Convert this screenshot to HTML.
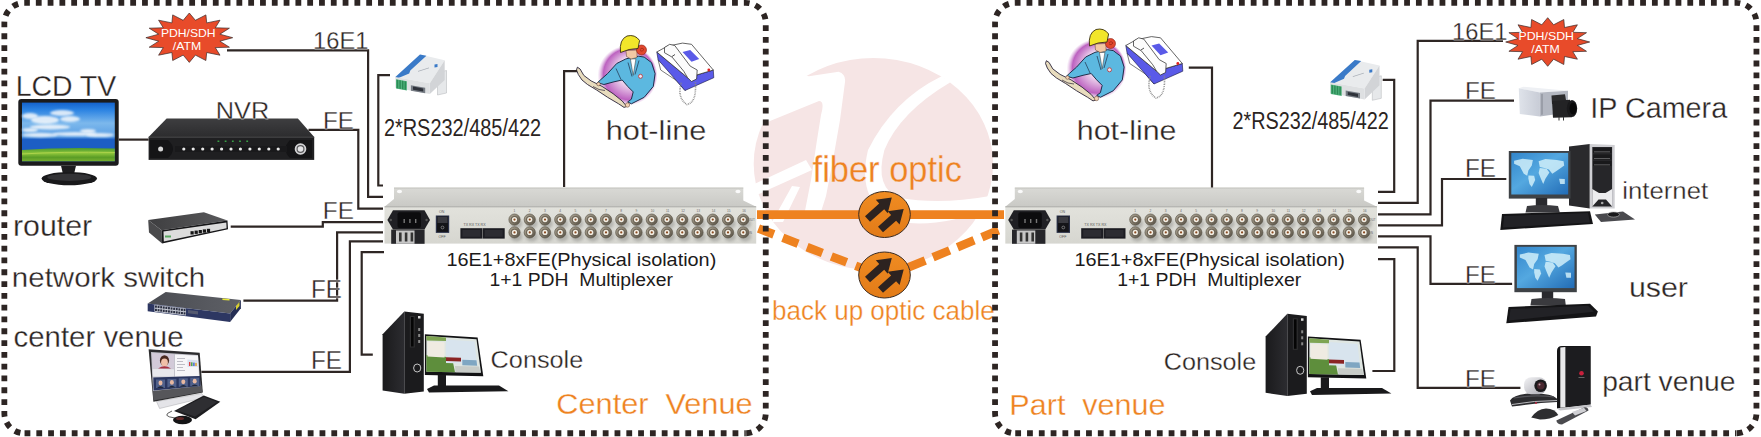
<!DOCTYPE html>
<html><head><meta charset="utf-8"><title>PDH Multiplexer diagram</title>
<style>html,body{margin:0;padding:0;background:#fff;}svg{display:block;font-family:"Liberation Sans",sans-serif;}</style>
</head><body>
<svg width="1761" height="437" viewBox="0 0 1761 437">
<defs>
<linearGradient id="gTop" x1="0" y1="0" x2="0" y2="1"><stop offset="0" stop-color="#d9d9d5"/><stop offset="1" stop-color="#c9c9c5"/></linearGradient>
<linearGradient id="gFront" x1="0" y1="0" x2="0" y2="1"><stop offset="0" stop-color="#e2e2dc"/><stop offset="1" stop-color="#d6d6d0"/></linearGradient>
<linearGradient id="gOr" x1="0" y1="0" x2="0" y2="1"><stop offset="0" stop-color="#f08c22"/><stop offset="1" stop-color="#e27b18"/></linearGradient>
<linearGradient id="gTV" x1="0" y1="0" x2="0" y2="1"><stop offset="0" stop-color="#1462cc"/><stop offset="0.12" stop-color="#2a82e2"/><stop offset="0.35" stop-color="#7cb8ec"/><stop offset="0.58" stop-color="#5a9ee4"/><stop offset="0.63" stop-color="#1c5ec4"/><stop offset="1" stop-color="#1c5ec4"/></linearGradient>
<linearGradient id="gGrass" x1="0" y1="0" x2="0" y2="1"><stop offset="0" stop-color="#4a9a30"/><stop offset="0.4" stop-color="#8cc43a"/><stop offset="0.7" stop-color="#5a9c26"/><stop offset="1" stop-color="#78b030"/></linearGradient>
<linearGradient id="gNvrTop" x1="0" y1="0" x2="0" y2="1"><stop offset="0" stop-color="#3e3e40"/><stop offset="1" stop-color="#2c2c2e"/></linearGradient>
<linearGradient id="gRouterTop" x1="0" y1="0" x2="1" y2="0"><stop offset="0" stop-color="#3e3e40"/><stop offset="1" stop-color="#5a5a5c"/></linearGradient>
<linearGradient id="gSwTop" x1="0" y1="0" x2="1" y2="0"><stop offset="0" stop-color="#4a4c52"/><stop offset="1" stop-color="#5e6066"/></linearGradient>
<linearGradient id="gTowerSide" x1="0" y1="0" x2="1" y2="0"><stop offset="0" stop-color="#1a1a1c"/><stop offset="1" stop-color="#2c2c30"/></linearGradient>
<linearGradient id="gConsoleScr" x1="0" y1="0" x2="1" y2="1"><stop offset="0" stop-color="#a8c890"/><stop offset="0.5" stop-color="#6a9c4a"/><stop offset="1" stop-color="#3a6a2a"/></linearGradient>
<linearGradient id="gCam" x1="0" y1="0" x2="1" y2="0"><stop offset="0" stop-color="#dfe3ea"/><stop offset="1" stop-color="#c8ccd6"/></linearGradient>
<linearGradient id="gWorld" x1="0" y1="0" x2="1" y2="1"><stop offset="0" stop-color="#3286cc"/><stop offset="0.45" stop-color="#54a8e0"/><stop offset="1" stop-color="#226cb6"/></linearGradient>
<linearGradient id="gSilver" x1="0" y1="0" x2="1" y2="1"><stop offset="0" stop-color="#f4f4f6"/><stop offset="1" stop-color="#a8a8b0"/></linearGradient>
<radialGradient id="gGlow" cx="0.5" cy="0.5" r="0.5" fx="0.66" fy="0.36"><stop offset="0" stop-color="#fdf9fd"/><stop offset="0.5" stop-color="#ecd2ec"/><stop offset="0.85" stop-color="#bc62c0"/><stop offset="1" stop-color="#d8a8dc" stop-opacity="0"/></radialGradient>
<linearGradient id="gBnc" x1="0" y1="0" x2="1" y2="1"><stop offset="0" stop-color="#b4ac9c"/><stop offset="0.5" stop-color="#867e6e"/><stop offset="1" stop-color="#4e483e"/></linearGradient>
<filter id="blur" x="-50%" y="-50%" width="200%" height="200%"><feGaussianBlur stdDeviation="1.5"/></filter>
<filter id="blur05" x="-20%" y="-20%" width="140%" height="140%"><feGaussianBlur stdDeviation="0.4"/></filter>
<filter id="blur1" x="-50%" y="-50%" width="200%" height="200%"><feGaussianBlur stdDeviation="1"/></filter>
</defs>
<ellipse cx="873.4" cy="164" rx="119.7" ry="106" fill="#f6e5e5"/>
<path d="M941.6 76.3 Q893 100 868 150 Q855 205 900 222 Q940 228 992 208 L990 196 Q940 205 900 198 Q874 188 884.4 150 Q900 112 950.8 82 Z" fill="#ffffff"/>
<path d="M808.9 76.3 L838.6 71.7 Q846 74 845 82 L840 120 L833 160 L826 196 L820 215 L804 216 L811 180 L817 140 L821 115 Q825 101 819 101 L770 121 L750 130 L745 60 Z" fill="#ffffff"/>
<path d="M750 186 L806 160 L812 170 L750 198 Z" fill="#ffffff"/>
<path d="M772 222 L792 186 L800 187 L783 222 Z" fill="#ffffff"/>
<path d="M757 214.6 H1004" stroke="#ee8220" stroke-width="8.6" fill="none"/>
<path d="M758.5 228.5 L885 277" stroke="#ee8220" stroke-width="8.6" fill="none" stroke-dasharray="16.4 9.6"/>
<path d="M998.5 230.3 L885 277" stroke="#ee8220" stroke-width="8.6" fill="none" stroke-dasharray="18 8.4"/>
<ellipse cx="884.5" cy="214.5" rx="25.8" ry="23" fill="url(#gOr)" stroke="#3a2a20" stroke-width="1"/>
<polygon points="865.0,216.2 879.2,203.6 875.8,199.7 891.8,197.5 887.7,213.2 884.2,209.3 870.0,221.8" fill="#2d2320" />
<polygon points="878.0,226.7 891.1,215.1 887.6,211.2 903.7,209.0 899.6,224.6 896.1,220.8 883.0,232.3" fill="#2d2320" />
<ellipse cx="884.5" cy="275" rx="25.8" ry="23" fill="url(#gOr)" stroke="#3a2a20" stroke-width="1"/>
<polygon points="865.0,276.7 879.2,264.1 875.8,260.2 891.8,258.0 887.7,273.7 884.2,269.8 870.0,282.3" fill="#2d2320" />
<polygon points="878.0,287.2 891.1,275.6 887.6,271.7 903.7,269.5 899.6,285.1 896.1,281.3 883.0,292.8" fill="#2d2320" />
<polygon points="394.0,187.7 743.3,187.7 743.3,200.5 756.2,206.8 384.5,206.8 394.0,199.0" fill="url(#gTop)" />
<rect x="384.5" y="206.8" width="371.7" height="36.8" fill="url(#gFront)"/>
<line x1="384.5" y1="206.8" x2="756.2" y2="206.8" stroke="#a9a9a4" stroke-width="1"/>
<line x1="394" y1="188" x2="743.3" y2="188" stroke="#bcbcb6" stroke-width="0.8"/>
<ellipse cx="399.5" cy="191.5" rx="2.6" ry="1.8" fill="#fafafa"/>
<ellipse cx="738" cy="191.5" rx="2.6" ry="1.8" fill="#fafafa"/>
<path d="M393 210.3 H424.5 L430 220 L424.5 229.6 H393 L387.4 220 Z" fill="#202024"/>
<rect x="397.5" y="212.2" width="23.5" height="15.8" rx="2" fill="#0c0c0e"/>
<rect x="403.5" y="219" width="1.4" height="4" fill="#777"/>
<rect x="409.2" y="219" width="1.4" height="4" fill="#777"/>
<rect x="415" y="219" width="1.4" height="4" fill="#777"/>
<circle cx="390.8" cy="220" r="1.2" fill="#555"/>
<circle cx="426.6" cy="220" r="1.2" fill="#555"/>
<rect x="391.2" y="229.6" width="33.4" height="14.2" fill="#26262a"/>
<rect x="396" y="230.5" width="18.5" height="13.3" fill="#c6c6c6"/>
<rect x="399" y="232.5" width="2.6" height="9" fill="#333"/>
<rect x="404.8" y="232.5" width="2.6" height="9" fill="#333"/>
<rect x="410.6" y="232.5" width="2.6" height="9" fill="#333"/>
<rect x="435.8" y="215.5" width="13.4" height="17.4" fill="#2a3048"/>
<rect x="437" y="216.5" width="11" height="15.4" fill="#141418"/>
<rect x="437.5" y="217" width="10" height="6" fill="#3a3a40"/>
<circle cx="442.5" cy="227.5" r="1.4" fill="none" stroke="#aaa" stroke-width="0.6"/>
<text x="439" y="212.8" font-size="3.6" fill="#555">ON</text>
<text x="438.5" y="237.6" font-size="3.6" fill="#555">OFF</text>
<rect x="460.4" y="228.2" width="22" height="10.4" fill="#1c1c22"/>
<rect x="462.4" y="230" width="18" height="6.8" fill="#2c2c32"/>
<rect x="482.7" y="228.2" width="22" height="10.4" fill="#1c1c22"/>
<rect x="484.7" y="230" width="18" height="6.8" fill="#2c2c32"/>
<text x="463.5" y="226.2" font-size="3.6" fill="#555">TX  RX   TX  RX</text>
<text x="513.5" y="212.3" font-size="3.2" fill="#666">1</text>
<ellipse cx="516.5" cy="223.6" rx="6" ry="5" fill="#000" opacity="0.18" filter="url(#blur)"/>
<circle cx="514.5" cy="219.6" r="5.6" fill="url(#gBnc)" stroke="#5a5448" stroke-width="0.7"/>
<circle cx="514.5" cy="219.6" r="3.7" fill="#6c6456"/>
<circle cx="514.5" cy="219.6" r="2.6" fill="#f2eee4"/>
<circle cx="514.5" cy="219.6" r="1.1" fill="#8b4b22"/>
<ellipse cx="516.5" cy="236.4" rx="6" ry="5" fill="#000" opacity="0.18" filter="url(#blur)"/>
<circle cx="514.5" cy="232.4" r="5.6" fill="url(#gBnc)" stroke="#5a5448" stroke-width="0.7"/>
<circle cx="514.5" cy="232.4" r="3.7" fill="#6c6456"/>
<circle cx="514.5" cy="232.4" r="2.6" fill="#f2eee4"/>
<circle cx="514.5" cy="232.4" r="1.1" fill="#8b4b22"/>
<text x="528.75" y="212.3" font-size="3.2" fill="#666">2</text>
<ellipse cx="531.75" cy="223.6" rx="6" ry="5" fill="#000" opacity="0.18" filter="url(#blur)"/>
<circle cx="529.75" cy="219.6" r="5.6" fill="url(#gBnc)" stroke="#5a5448" stroke-width="0.7"/>
<circle cx="529.75" cy="219.6" r="3.7" fill="#6c6456"/>
<circle cx="529.75" cy="219.6" r="2.6" fill="#f2eee4"/>
<circle cx="529.75" cy="219.6" r="1.1" fill="#8b4b22"/>
<ellipse cx="531.75" cy="236.4" rx="6" ry="5" fill="#000" opacity="0.18" filter="url(#blur)"/>
<circle cx="529.75" cy="232.4" r="5.6" fill="url(#gBnc)" stroke="#5a5448" stroke-width="0.7"/>
<circle cx="529.75" cy="232.4" r="3.7" fill="#6c6456"/>
<circle cx="529.75" cy="232.4" r="2.6" fill="#f2eee4"/>
<circle cx="529.75" cy="232.4" r="1.1" fill="#8b4b22"/>
<text x="544.0" y="212.3" font-size="3.2" fill="#666">3</text>
<ellipse cx="547.0" cy="223.6" rx="6" ry="5" fill="#000" opacity="0.18" filter="url(#blur)"/>
<circle cx="545.0" cy="219.6" r="5.6" fill="url(#gBnc)" stroke="#5a5448" stroke-width="0.7"/>
<circle cx="545.0" cy="219.6" r="3.7" fill="#6c6456"/>
<circle cx="545.0" cy="219.6" r="2.6" fill="#f2eee4"/>
<circle cx="545.0" cy="219.6" r="1.1" fill="#8b4b22"/>
<ellipse cx="547.0" cy="236.4" rx="6" ry="5" fill="#000" opacity="0.18" filter="url(#blur)"/>
<circle cx="545.0" cy="232.4" r="5.6" fill="url(#gBnc)" stroke="#5a5448" stroke-width="0.7"/>
<circle cx="545.0" cy="232.4" r="3.7" fill="#6c6456"/>
<circle cx="545.0" cy="232.4" r="2.6" fill="#f2eee4"/>
<circle cx="545.0" cy="232.4" r="1.1" fill="#8b4b22"/>
<text x="559.25" y="212.3" font-size="3.2" fill="#666">4</text>
<ellipse cx="562.25" cy="223.6" rx="6" ry="5" fill="#000" opacity="0.18" filter="url(#blur)"/>
<circle cx="560.25" cy="219.6" r="5.6" fill="url(#gBnc)" stroke="#5a5448" stroke-width="0.7"/>
<circle cx="560.25" cy="219.6" r="3.7" fill="#6c6456"/>
<circle cx="560.25" cy="219.6" r="2.6" fill="#f2eee4"/>
<circle cx="560.25" cy="219.6" r="1.1" fill="#8b4b22"/>
<ellipse cx="562.25" cy="236.4" rx="6" ry="5" fill="#000" opacity="0.18" filter="url(#blur)"/>
<circle cx="560.25" cy="232.4" r="5.6" fill="url(#gBnc)" stroke="#5a5448" stroke-width="0.7"/>
<circle cx="560.25" cy="232.4" r="3.7" fill="#6c6456"/>
<circle cx="560.25" cy="232.4" r="2.6" fill="#f2eee4"/>
<circle cx="560.25" cy="232.4" r="1.1" fill="#8b4b22"/>
<text x="574.5" y="212.3" font-size="3.2" fill="#666">5</text>
<ellipse cx="577.5" cy="223.6" rx="6" ry="5" fill="#000" opacity="0.18" filter="url(#blur)"/>
<circle cx="575.5" cy="219.6" r="5.6" fill="url(#gBnc)" stroke="#5a5448" stroke-width="0.7"/>
<circle cx="575.5" cy="219.6" r="3.7" fill="#6c6456"/>
<circle cx="575.5" cy="219.6" r="2.6" fill="#f2eee4"/>
<circle cx="575.5" cy="219.6" r="1.1" fill="#8b4b22"/>
<ellipse cx="577.5" cy="236.4" rx="6" ry="5" fill="#000" opacity="0.18" filter="url(#blur)"/>
<circle cx="575.5" cy="232.4" r="5.6" fill="url(#gBnc)" stroke="#5a5448" stroke-width="0.7"/>
<circle cx="575.5" cy="232.4" r="3.7" fill="#6c6456"/>
<circle cx="575.5" cy="232.4" r="2.6" fill="#f2eee4"/>
<circle cx="575.5" cy="232.4" r="1.1" fill="#8b4b22"/>
<text x="589.75" y="212.3" font-size="3.2" fill="#666">6</text>
<ellipse cx="592.75" cy="223.6" rx="6" ry="5" fill="#000" opacity="0.18" filter="url(#blur)"/>
<circle cx="590.75" cy="219.6" r="5.6" fill="url(#gBnc)" stroke="#5a5448" stroke-width="0.7"/>
<circle cx="590.75" cy="219.6" r="3.7" fill="#6c6456"/>
<circle cx="590.75" cy="219.6" r="2.6" fill="#f2eee4"/>
<circle cx="590.75" cy="219.6" r="1.1" fill="#8b4b22"/>
<ellipse cx="592.75" cy="236.4" rx="6" ry="5" fill="#000" opacity="0.18" filter="url(#blur)"/>
<circle cx="590.75" cy="232.4" r="5.6" fill="url(#gBnc)" stroke="#5a5448" stroke-width="0.7"/>
<circle cx="590.75" cy="232.4" r="3.7" fill="#6c6456"/>
<circle cx="590.75" cy="232.4" r="2.6" fill="#f2eee4"/>
<circle cx="590.75" cy="232.4" r="1.1" fill="#8b4b22"/>
<text x="605.0" y="212.3" font-size="3.2" fill="#666">7</text>
<ellipse cx="608.0" cy="223.6" rx="6" ry="5" fill="#000" opacity="0.18" filter="url(#blur)"/>
<circle cx="606.0" cy="219.6" r="5.6" fill="url(#gBnc)" stroke="#5a5448" stroke-width="0.7"/>
<circle cx="606.0" cy="219.6" r="3.7" fill="#6c6456"/>
<circle cx="606.0" cy="219.6" r="2.6" fill="#f2eee4"/>
<circle cx="606.0" cy="219.6" r="1.1" fill="#8b4b22"/>
<ellipse cx="608.0" cy="236.4" rx="6" ry="5" fill="#000" opacity="0.18" filter="url(#blur)"/>
<circle cx="606.0" cy="232.4" r="5.6" fill="url(#gBnc)" stroke="#5a5448" stroke-width="0.7"/>
<circle cx="606.0" cy="232.4" r="3.7" fill="#6c6456"/>
<circle cx="606.0" cy="232.4" r="2.6" fill="#f2eee4"/>
<circle cx="606.0" cy="232.4" r="1.1" fill="#8b4b22"/>
<text x="620.25" y="212.3" font-size="3.2" fill="#666">8</text>
<ellipse cx="623.25" cy="223.6" rx="6" ry="5" fill="#000" opacity="0.18" filter="url(#blur)"/>
<circle cx="621.25" cy="219.6" r="5.6" fill="url(#gBnc)" stroke="#5a5448" stroke-width="0.7"/>
<circle cx="621.25" cy="219.6" r="3.7" fill="#6c6456"/>
<circle cx="621.25" cy="219.6" r="2.6" fill="#f2eee4"/>
<circle cx="621.25" cy="219.6" r="1.1" fill="#8b4b22"/>
<ellipse cx="623.25" cy="236.4" rx="6" ry="5" fill="#000" opacity="0.18" filter="url(#blur)"/>
<circle cx="621.25" cy="232.4" r="5.6" fill="url(#gBnc)" stroke="#5a5448" stroke-width="0.7"/>
<circle cx="621.25" cy="232.4" r="3.7" fill="#6c6456"/>
<circle cx="621.25" cy="232.4" r="2.6" fill="#f2eee4"/>
<circle cx="621.25" cy="232.4" r="1.1" fill="#8b4b22"/>
<text x="635.5" y="212.3" font-size="3.2" fill="#666">9</text>
<ellipse cx="638.5" cy="223.6" rx="6" ry="5" fill="#000" opacity="0.18" filter="url(#blur)"/>
<circle cx="636.5" cy="219.6" r="5.6" fill="url(#gBnc)" stroke="#5a5448" stroke-width="0.7"/>
<circle cx="636.5" cy="219.6" r="3.7" fill="#6c6456"/>
<circle cx="636.5" cy="219.6" r="2.6" fill="#f2eee4"/>
<circle cx="636.5" cy="219.6" r="1.1" fill="#8b4b22"/>
<ellipse cx="638.5" cy="236.4" rx="6" ry="5" fill="#000" opacity="0.18" filter="url(#blur)"/>
<circle cx="636.5" cy="232.4" r="5.6" fill="url(#gBnc)" stroke="#5a5448" stroke-width="0.7"/>
<circle cx="636.5" cy="232.4" r="3.7" fill="#6c6456"/>
<circle cx="636.5" cy="232.4" r="2.6" fill="#f2eee4"/>
<circle cx="636.5" cy="232.4" r="1.1" fill="#8b4b22"/>
<text x="650.75" y="212.3" font-size="3.2" fill="#666">10</text>
<ellipse cx="653.75" cy="223.6" rx="6" ry="5" fill="#000" opacity="0.18" filter="url(#blur)"/>
<circle cx="651.75" cy="219.6" r="5.6" fill="url(#gBnc)" stroke="#5a5448" stroke-width="0.7"/>
<circle cx="651.75" cy="219.6" r="3.7" fill="#6c6456"/>
<circle cx="651.75" cy="219.6" r="2.6" fill="#f2eee4"/>
<circle cx="651.75" cy="219.6" r="1.1" fill="#8b4b22"/>
<ellipse cx="653.75" cy="236.4" rx="6" ry="5" fill="#000" opacity="0.18" filter="url(#blur)"/>
<circle cx="651.75" cy="232.4" r="5.6" fill="url(#gBnc)" stroke="#5a5448" stroke-width="0.7"/>
<circle cx="651.75" cy="232.4" r="3.7" fill="#6c6456"/>
<circle cx="651.75" cy="232.4" r="2.6" fill="#f2eee4"/>
<circle cx="651.75" cy="232.4" r="1.1" fill="#8b4b22"/>
<text x="666.0" y="212.3" font-size="3.2" fill="#666">11</text>
<ellipse cx="669.0" cy="223.6" rx="6" ry="5" fill="#000" opacity="0.18" filter="url(#blur)"/>
<circle cx="667.0" cy="219.6" r="5.6" fill="url(#gBnc)" stroke="#5a5448" stroke-width="0.7"/>
<circle cx="667.0" cy="219.6" r="3.7" fill="#6c6456"/>
<circle cx="667.0" cy="219.6" r="2.6" fill="#f2eee4"/>
<circle cx="667.0" cy="219.6" r="1.1" fill="#8b4b22"/>
<ellipse cx="669.0" cy="236.4" rx="6" ry="5" fill="#000" opacity="0.18" filter="url(#blur)"/>
<circle cx="667.0" cy="232.4" r="5.6" fill="url(#gBnc)" stroke="#5a5448" stroke-width="0.7"/>
<circle cx="667.0" cy="232.4" r="3.7" fill="#6c6456"/>
<circle cx="667.0" cy="232.4" r="2.6" fill="#f2eee4"/>
<circle cx="667.0" cy="232.4" r="1.1" fill="#8b4b22"/>
<text x="681.25" y="212.3" font-size="3.2" fill="#666">12</text>
<ellipse cx="684.25" cy="223.6" rx="6" ry="5" fill="#000" opacity="0.18" filter="url(#blur)"/>
<circle cx="682.25" cy="219.6" r="5.6" fill="url(#gBnc)" stroke="#5a5448" stroke-width="0.7"/>
<circle cx="682.25" cy="219.6" r="3.7" fill="#6c6456"/>
<circle cx="682.25" cy="219.6" r="2.6" fill="#f2eee4"/>
<circle cx="682.25" cy="219.6" r="1.1" fill="#8b4b22"/>
<ellipse cx="684.25" cy="236.4" rx="6" ry="5" fill="#000" opacity="0.18" filter="url(#blur)"/>
<circle cx="682.25" cy="232.4" r="5.6" fill="url(#gBnc)" stroke="#5a5448" stroke-width="0.7"/>
<circle cx="682.25" cy="232.4" r="3.7" fill="#6c6456"/>
<circle cx="682.25" cy="232.4" r="2.6" fill="#f2eee4"/>
<circle cx="682.25" cy="232.4" r="1.1" fill="#8b4b22"/>
<text x="696.5" y="212.3" font-size="3.2" fill="#666">13</text>
<ellipse cx="699.5" cy="223.6" rx="6" ry="5" fill="#000" opacity="0.18" filter="url(#blur)"/>
<circle cx="697.5" cy="219.6" r="5.6" fill="url(#gBnc)" stroke="#5a5448" stroke-width="0.7"/>
<circle cx="697.5" cy="219.6" r="3.7" fill="#6c6456"/>
<circle cx="697.5" cy="219.6" r="2.6" fill="#f2eee4"/>
<circle cx="697.5" cy="219.6" r="1.1" fill="#8b4b22"/>
<ellipse cx="699.5" cy="236.4" rx="6" ry="5" fill="#000" opacity="0.18" filter="url(#blur)"/>
<circle cx="697.5" cy="232.4" r="5.6" fill="url(#gBnc)" stroke="#5a5448" stroke-width="0.7"/>
<circle cx="697.5" cy="232.4" r="3.7" fill="#6c6456"/>
<circle cx="697.5" cy="232.4" r="2.6" fill="#f2eee4"/>
<circle cx="697.5" cy="232.4" r="1.1" fill="#8b4b22"/>
<text x="711.75" y="212.3" font-size="3.2" fill="#666">14</text>
<ellipse cx="714.75" cy="223.6" rx="6" ry="5" fill="#000" opacity="0.18" filter="url(#blur)"/>
<circle cx="712.75" cy="219.6" r="5.6" fill="url(#gBnc)" stroke="#5a5448" stroke-width="0.7"/>
<circle cx="712.75" cy="219.6" r="3.7" fill="#6c6456"/>
<circle cx="712.75" cy="219.6" r="2.6" fill="#f2eee4"/>
<circle cx="712.75" cy="219.6" r="1.1" fill="#8b4b22"/>
<ellipse cx="714.75" cy="236.4" rx="6" ry="5" fill="#000" opacity="0.18" filter="url(#blur)"/>
<circle cx="712.75" cy="232.4" r="5.6" fill="url(#gBnc)" stroke="#5a5448" stroke-width="0.7"/>
<circle cx="712.75" cy="232.4" r="3.7" fill="#6c6456"/>
<circle cx="712.75" cy="232.4" r="2.6" fill="#f2eee4"/>
<circle cx="712.75" cy="232.4" r="1.1" fill="#8b4b22"/>
<text x="727.0" y="212.3" font-size="3.2" fill="#666">15</text>
<ellipse cx="730.0" cy="223.6" rx="6" ry="5" fill="#000" opacity="0.18" filter="url(#blur)"/>
<circle cx="728.0" cy="219.6" r="5.6" fill="url(#gBnc)" stroke="#5a5448" stroke-width="0.7"/>
<circle cx="728.0" cy="219.6" r="3.7" fill="#6c6456"/>
<circle cx="728.0" cy="219.6" r="2.6" fill="#f2eee4"/>
<circle cx="728.0" cy="219.6" r="1.1" fill="#8b4b22"/>
<ellipse cx="730.0" cy="236.4" rx="6" ry="5" fill="#000" opacity="0.18" filter="url(#blur)"/>
<circle cx="728.0" cy="232.4" r="5.6" fill="url(#gBnc)" stroke="#5a5448" stroke-width="0.7"/>
<circle cx="728.0" cy="232.4" r="3.7" fill="#6c6456"/>
<circle cx="728.0" cy="232.4" r="2.6" fill="#f2eee4"/>
<circle cx="728.0" cy="232.4" r="1.1" fill="#8b4b22"/>
<text x="742.25" y="212.3" font-size="3.2" fill="#666">16</text>
<ellipse cx="745.25" cy="223.6" rx="6" ry="5" fill="#000" opacity="0.18" filter="url(#blur)"/>
<circle cx="743.25" cy="219.6" r="5.6" fill="url(#gBnc)" stroke="#5a5448" stroke-width="0.7"/>
<circle cx="743.25" cy="219.6" r="3.7" fill="#6c6456"/>
<circle cx="743.25" cy="219.6" r="2.6" fill="#f2eee4"/>
<circle cx="743.25" cy="219.6" r="1.1" fill="#8b4b22"/>
<ellipse cx="745.25" cy="236.4" rx="6" ry="5" fill="#000" opacity="0.18" filter="url(#blur)"/>
<circle cx="743.25" cy="232.4" r="5.6" fill="url(#gBnc)" stroke="#5a5448" stroke-width="0.7"/>
<circle cx="743.25" cy="232.4" r="3.7" fill="#6c6456"/>
<circle cx="743.25" cy="232.4" r="2.6" fill="#f2eee4"/>
<circle cx="743.25" cy="232.4" r="1.1" fill="#8b4b22"/>
<text x="748.5" y="220.5" font-size="3" fill="#666">OUT</text>
<text x="749" y="233.5" font-size="3" fill="#666">IN</text>
<polygon points="1014.8,187.7 1364.1,187.7 1364.1,200.5 1377.0,206.8 1005.3,206.8 1014.8,199.0" fill="url(#gTop)" />
<rect x="1005.3" y="206.8" width="371.7" height="36.8" fill="url(#gFront)"/>
<line x1="1005.3" y1="206.8" x2="1377.0" y2="206.8" stroke="#a9a9a4" stroke-width="1"/>
<line x1="1014.8" y1="188" x2="1364.1" y2="188" stroke="#bcbcb6" stroke-width="0.8"/>
<ellipse cx="1020.3" cy="191.5" rx="2.6" ry="1.8" fill="#fafafa"/>
<ellipse cx="1358.8" cy="191.5" rx="2.6" ry="1.8" fill="#fafafa"/>
<path d="M1013.8 210.3 H1045.3 L1050.8 220 L1045.3 229.6 H1013.8 L1008.1999999999999 220 Z" fill="#202024"/>
<rect x="1018.3" y="212.2" width="23.5" height="15.8" rx="2" fill="#0c0c0e"/>
<rect x="1024.3" y="219" width="1.4" height="4" fill="#777"/>
<rect x="1030.0" y="219" width="1.4" height="4" fill="#777"/>
<rect x="1035.8" y="219" width="1.4" height="4" fill="#777"/>
<circle cx="1011.5999999999999" cy="220" r="1.2" fill="#555"/>
<circle cx="1047.4" cy="220" r="1.2" fill="#555"/>
<rect x="1012.0" y="229.6" width="33.4" height="14.2" fill="#26262a"/>
<rect x="1016.8" y="230.5" width="18.5" height="13.3" fill="#c6c6c6"/>
<rect x="1019.8" y="232.5" width="2.6" height="9" fill="#333"/>
<rect x="1025.6" y="232.5" width="2.6" height="9" fill="#333"/>
<rect x="1031.4" y="232.5" width="2.6" height="9" fill="#333"/>
<rect x="1056.6" y="215.5" width="13.4" height="17.4" fill="#2a3048"/>
<rect x="1057.8" y="216.5" width="11" height="15.4" fill="#141418"/>
<rect x="1058.3" y="217" width="10" height="6" fill="#3a3a40"/>
<circle cx="1063.3" cy="227.5" r="1.4" fill="none" stroke="#aaa" stroke-width="0.6"/>
<text x="1059.8" y="212.8" font-size="3.6" fill="#555">ON</text>
<text x="1059.3" y="237.6" font-size="3.6" fill="#555">OFF</text>
<rect x="1081.1999999999998" y="228.2" width="22" height="10.4" fill="#1c1c22"/>
<rect x="1083.1999999999998" y="230" width="18" height="6.8" fill="#2c2c32"/>
<rect x="1103.5" y="228.2" width="22" height="10.4" fill="#1c1c22"/>
<rect x="1105.5" y="230" width="18" height="6.8" fill="#2c2c32"/>
<text x="1084.3" y="226.2" font-size="3.6" fill="#555">TX  RX   TX  RX</text>
<text x="1134.3" y="212.3" font-size="3.2" fill="#666">1</text>
<ellipse cx="1137.3" cy="223.6" rx="6" ry="5" fill="#000" opacity="0.18" filter="url(#blur)"/>
<circle cx="1135.3" cy="219.6" r="5.6" fill="url(#gBnc)" stroke="#5a5448" stroke-width="0.7"/>
<circle cx="1135.3" cy="219.6" r="3.7" fill="#6c6456"/>
<circle cx="1135.3" cy="219.6" r="2.6" fill="#f2eee4"/>
<circle cx="1135.3" cy="219.6" r="1.1" fill="#8b4b22"/>
<ellipse cx="1137.3" cy="236.4" rx="6" ry="5" fill="#000" opacity="0.18" filter="url(#blur)"/>
<circle cx="1135.3" cy="232.4" r="5.6" fill="url(#gBnc)" stroke="#5a5448" stroke-width="0.7"/>
<circle cx="1135.3" cy="232.4" r="3.7" fill="#6c6456"/>
<circle cx="1135.3" cy="232.4" r="2.6" fill="#f2eee4"/>
<circle cx="1135.3" cy="232.4" r="1.1" fill="#8b4b22"/>
<text x="1149.55" y="212.3" font-size="3.2" fill="#666">2</text>
<ellipse cx="1152.55" cy="223.6" rx="6" ry="5" fill="#000" opacity="0.18" filter="url(#blur)"/>
<circle cx="1150.55" cy="219.6" r="5.6" fill="url(#gBnc)" stroke="#5a5448" stroke-width="0.7"/>
<circle cx="1150.55" cy="219.6" r="3.7" fill="#6c6456"/>
<circle cx="1150.55" cy="219.6" r="2.6" fill="#f2eee4"/>
<circle cx="1150.55" cy="219.6" r="1.1" fill="#8b4b22"/>
<ellipse cx="1152.55" cy="236.4" rx="6" ry="5" fill="#000" opacity="0.18" filter="url(#blur)"/>
<circle cx="1150.55" cy="232.4" r="5.6" fill="url(#gBnc)" stroke="#5a5448" stroke-width="0.7"/>
<circle cx="1150.55" cy="232.4" r="3.7" fill="#6c6456"/>
<circle cx="1150.55" cy="232.4" r="2.6" fill="#f2eee4"/>
<circle cx="1150.55" cy="232.4" r="1.1" fill="#8b4b22"/>
<text x="1164.8" y="212.3" font-size="3.2" fill="#666">3</text>
<ellipse cx="1167.8" cy="223.6" rx="6" ry="5" fill="#000" opacity="0.18" filter="url(#blur)"/>
<circle cx="1165.8" cy="219.6" r="5.6" fill="url(#gBnc)" stroke="#5a5448" stroke-width="0.7"/>
<circle cx="1165.8" cy="219.6" r="3.7" fill="#6c6456"/>
<circle cx="1165.8" cy="219.6" r="2.6" fill="#f2eee4"/>
<circle cx="1165.8" cy="219.6" r="1.1" fill="#8b4b22"/>
<ellipse cx="1167.8" cy="236.4" rx="6" ry="5" fill="#000" opacity="0.18" filter="url(#blur)"/>
<circle cx="1165.8" cy="232.4" r="5.6" fill="url(#gBnc)" stroke="#5a5448" stroke-width="0.7"/>
<circle cx="1165.8" cy="232.4" r="3.7" fill="#6c6456"/>
<circle cx="1165.8" cy="232.4" r="2.6" fill="#f2eee4"/>
<circle cx="1165.8" cy="232.4" r="1.1" fill="#8b4b22"/>
<text x="1180.05" y="212.3" font-size="3.2" fill="#666">4</text>
<ellipse cx="1183.05" cy="223.6" rx="6" ry="5" fill="#000" opacity="0.18" filter="url(#blur)"/>
<circle cx="1181.05" cy="219.6" r="5.6" fill="url(#gBnc)" stroke="#5a5448" stroke-width="0.7"/>
<circle cx="1181.05" cy="219.6" r="3.7" fill="#6c6456"/>
<circle cx="1181.05" cy="219.6" r="2.6" fill="#f2eee4"/>
<circle cx="1181.05" cy="219.6" r="1.1" fill="#8b4b22"/>
<ellipse cx="1183.05" cy="236.4" rx="6" ry="5" fill="#000" opacity="0.18" filter="url(#blur)"/>
<circle cx="1181.05" cy="232.4" r="5.6" fill="url(#gBnc)" stroke="#5a5448" stroke-width="0.7"/>
<circle cx="1181.05" cy="232.4" r="3.7" fill="#6c6456"/>
<circle cx="1181.05" cy="232.4" r="2.6" fill="#f2eee4"/>
<circle cx="1181.05" cy="232.4" r="1.1" fill="#8b4b22"/>
<text x="1195.3" y="212.3" font-size="3.2" fill="#666">5</text>
<ellipse cx="1198.3" cy="223.6" rx="6" ry="5" fill="#000" opacity="0.18" filter="url(#blur)"/>
<circle cx="1196.3" cy="219.6" r="5.6" fill="url(#gBnc)" stroke="#5a5448" stroke-width="0.7"/>
<circle cx="1196.3" cy="219.6" r="3.7" fill="#6c6456"/>
<circle cx="1196.3" cy="219.6" r="2.6" fill="#f2eee4"/>
<circle cx="1196.3" cy="219.6" r="1.1" fill="#8b4b22"/>
<ellipse cx="1198.3" cy="236.4" rx="6" ry="5" fill="#000" opacity="0.18" filter="url(#blur)"/>
<circle cx="1196.3" cy="232.4" r="5.6" fill="url(#gBnc)" stroke="#5a5448" stroke-width="0.7"/>
<circle cx="1196.3" cy="232.4" r="3.7" fill="#6c6456"/>
<circle cx="1196.3" cy="232.4" r="2.6" fill="#f2eee4"/>
<circle cx="1196.3" cy="232.4" r="1.1" fill="#8b4b22"/>
<text x="1210.55" y="212.3" font-size="3.2" fill="#666">6</text>
<ellipse cx="1213.55" cy="223.6" rx="6" ry="5" fill="#000" opacity="0.18" filter="url(#blur)"/>
<circle cx="1211.55" cy="219.6" r="5.6" fill="url(#gBnc)" stroke="#5a5448" stroke-width="0.7"/>
<circle cx="1211.55" cy="219.6" r="3.7" fill="#6c6456"/>
<circle cx="1211.55" cy="219.6" r="2.6" fill="#f2eee4"/>
<circle cx="1211.55" cy="219.6" r="1.1" fill="#8b4b22"/>
<ellipse cx="1213.55" cy="236.4" rx="6" ry="5" fill="#000" opacity="0.18" filter="url(#blur)"/>
<circle cx="1211.55" cy="232.4" r="5.6" fill="url(#gBnc)" stroke="#5a5448" stroke-width="0.7"/>
<circle cx="1211.55" cy="232.4" r="3.7" fill="#6c6456"/>
<circle cx="1211.55" cy="232.4" r="2.6" fill="#f2eee4"/>
<circle cx="1211.55" cy="232.4" r="1.1" fill="#8b4b22"/>
<text x="1225.8" y="212.3" font-size="3.2" fill="#666">7</text>
<ellipse cx="1228.8" cy="223.6" rx="6" ry="5" fill="#000" opacity="0.18" filter="url(#blur)"/>
<circle cx="1226.8" cy="219.6" r="5.6" fill="url(#gBnc)" stroke="#5a5448" stroke-width="0.7"/>
<circle cx="1226.8" cy="219.6" r="3.7" fill="#6c6456"/>
<circle cx="1226.8" cy="219.6" r="2.6" fill="#f2eee4"/>
<circle cx="1226.8" cy="219.6" r="1.1" fill="#8b4b22"/>
<ellipse cx="1228.8" cy="236.4" rx="6" ry="5" fill="#000" opacity="0.18" filter="url(#blur)"/>
<circle cx="1226.8" cy="232.4" r="5.6" fill="url(#gBnc)" stroke="#5a5448" stroke-width="0.7"/>
<circle cx="1226.8" cy="232.4" r="3.7" fill="#6c6456"/>
<circle cx="1226.8" cy="232.4" r="2.6" fill="#f2eee4"/>
<circle cx="1226.8" cy="232.4" r="1.1" fill="#8b4b22"/>
<text x="1241.05" y="212.3" font-size="3.2" fill="#666">8</text>
<ellipse cx="1244.05" cy="223.6" rx="6" ry="5" fill="#000" opacity="0.18" filter="url(#blur)"/>
<circle cx="1242.05" cy="219.6" r="5.6" fill="url(#gBnc)" stroke="#5a5448" stroke-width="0.7"/>
<circle cx="1242.05" cy="219.6" r="3.7" fill="#6c6456"/>
<circle cx="1242.05" cy="219.6" r="2.6" fill="#f2eee4"/>
<circle cx="1242.05" cy="219.6" r="1.1" fill="#8b4b22"/>
<ellipse cx="1244.05" cy="236.4" rx="6" ry="5" fill="#000" opacity="0.18" filter="url(#blur)"/>
<circle cx="1242.05" cy="232.4" r="5.6" fill="url(#gBnc)" stroke="#5a5448" stroke-width="0.7"/>
<circle cx="1242.05" cy="232.4" r="3.7" fill="#6c6456"/>
<circle cx="1242.05" cy="232.4" r="2.6" fill="#f2eee4"/>
<circle cx="1242.05" cy="232.4" r="1.1" fill="#8b4b22"/>
<text x="1256.3" y="212.3" font-size="3.2" fill="#666">9</text>
<ellipse cx="1259.3" cy="223.6" rx="6" ry="5" fill="#000" opacity="0.18" filter="url(#blur)"/>
<circle cx="1257.3" cy="219.6" r="5.6" fill="url(#gBnc)" stroke="#5a5448" stroke-width="0.7"/>
<circle cx="1257.3" cy="219.6" r="3.7" fill="#6c6456"/>
<circle cx="1257.3" cy="219.6" r="2.6" fill="#f2eee4"/>
<circle cx="1257.3" cy="219.6" r="1.1" fill="#8b4b22"/>
<ellipse cx="1259.3" cy="236.4" rx="6" ry="5" fill="#000" opacity="0.18" filter="url(#blur)"/>
<circle cx="1257.3" cy="232.4" r="5.6" fill="url(#gBnc)" stroke="#5a5448" stroke-width="0.7"/>
<circle cx="1257.3" cy="232.4" r="3.7" fill="#6c6456"/>
<circle cx="1257.3" cy="232.4" r="2.6" fill="#f2eee4"/>
<circle cx="1257.3" cy="232.4" r="1.1" fill="#8b4b22"/>
<text x="1271.55" y="212.3" font-size="3.2" fill="#666">10</text>
<ellipse cx="1274.55" cy="223.6" rx="6" ry="5" fill="#000" opacity="0.18" filter="url(#blur)"/>
<circle cx="1272.55" cy="219.6" r="5.6" fill="url(#gBnc)" stroke="#5a5448" stroke-width="0.7"/>
<circle cx="1272.55" cy="219.6" r="3.7" fill="#6c6456"/>
<circle cx="1272.55" cy="219.6" r="2.6" fill="#f2eee4"/>
<circle cx="1272.55" cy="219.6" r="1.1" fill="#8b4b22"/>
<ellipse cx="1274.55" cy="236.4" rx="6" ry="5" fill="#000" opacity="0.18" filter="url(#blur)"/>
<circle cx="1272.55" cy="232.4" r="5.6" fill="url(#gBnc)" stroke="#5a5448" stroke-width="0.7"/>
<circle cx="1272.55" cy="232.4" r="3.7" fill="#6c6456"/>
<circle cx="1272.55" cy="232.4" r="2.6" fill="#f2eee4"/>
<circle cx="1272.55" cy="232.4" r="1.1" fill="#8b4b22"/>
<text x="1286.8" y="212.3" font-size="3.2" fill="#666">11</text>
<ellipse cx="1289.8" cy="223.6" rx="6" ry="5" fill="#000" opacity="0.18" filter="url(#blur)"/>
<circle cx="1287.8" cy="219.6" r="5.6" fill="url(#gBnc)" stroke="#5a5448" stroke-width="0.7"/>
<circle cx="1287.8" cy="219.6" r="3.7" fill="#6c6456"/>
<circle cx="1287.8" cy="219.6" r="2.6" fill="#f2eee4"/>
<circle cx="1287.8" cy="219.6" r="1.1" fill="#8b4b22"/>
<ellipse cx="1289.8" cy="236.4" rx="6" ry="5" fill="#000" opacity="0.18" filter="url(#blur)"/>
<circle cx="1287.8" cy="232.4" r="5.6" fill="url(#gBnc)" stroke="#5a5448" stroke-width="0.7"/>
<circle cx="1287.8" cy="232.4" r="3.7" fill="#6c6456"/>
<circle cx="1287.8" cy="232.4" r="2.6" fill="#f2eee4"/>
<circle cx="1287.8" cy="232.4" r="1.1" fill="#8b4b22"/>
<text x="1302.05" y="212.3" font-size="3.2" fill="#666">12</text>
<ellipse cx="1305.05" cy="223.6" rx="6" ry="5" fill="#000" opacity="0.18" filter="url(#blur)"/>
<circle cx="1303.05" cy="219.6" r="5.6" fill="url(#gBnc)" stroke="#5a5448" stroke-width="0.7"/>
<circle cx="1303.05" cy="219.6" r="3.7" fill="#6c6456"/>
<circle cx="1303.05" cy="219.6" r="2.6" fill="#f2eee4"/>
<circle cx="1303.05" cy="219.6" r="1.1" fill="#8b4b22"/>
<ellipse cx="1305.05" cy="236.4" rx="6" ry="5" fill="#000" opacity="0.18" filter="url(#blur)"/>
<circle cx="1303.05" cy="232.4" r="5.6" fill="url(#gBnc)" stroke="#5a5448" stroke-width="0.7"/>
<circle cx="1303.05" cy="232.4" r="3.7" fill="#6c6456"/>
<circle cx="1303.05" cy="232.4" r="2.6" fill="#f2eee4"/>
<circle cx="1303.05" cy="232.4" r="1.1" fill="#8b4b22"/>
<text x="1317.3" y="212.3" font-size="3.2" fill="#666">13</text>
<ellipse cx="1320.3" cy="223.6" rx="6" ry="5" fill="#000" opacity="0.18" filter="url(#blur)"/>
<circle cx="1318.3" cy="219.6" r="5.6" fill="url(#gBnc)" stroke="#5a5448" stroke-width="0.7"/>
<circle cx="1318.3" cy="219.6" r="3.7" fill="#6c6456"/>
<circle cx="1318.3" cy="219.6" r="2.6" fill="#f2eee4"/>
<circle cx="1318.3" cy="219.6" r="1.1" fill="#8b4b22"/>
<ellipse cx="1320.3" cy="236.4" rx="6" ry="5" fill="#000" opacity="0.18" filter="url(#blur)"/>
<circle cx="1318.3" cy="232.4" r="5.6" fill="url(#gBnc)" stroke="#5a5448" stroke-width="0.7"/>
<circle cx="1318.3" cy="232.4" r="3.7" fill="#6c6456"/>
<circle cx="1318.3" cy="232.4" r="2.6" fill="#f2eee4"/>
<circle cx="1318.3" cy="232.4" r="1.1" fill="#8b4b22"/>
<text x="1332.55" y="212.3" font-size="3.2" fill="#666">14</text>
<ellipse cx="1335.55" cy="223.6" rx="6" ry="5" fill="#000" opacity="0.18" filter="url(#blur)"/>
<circle cx="1333.55" cy="219.6" r="5.6" fill="url(#gBnc)" stroke="#5a5448" stroke-width="0.7"/>
<circle cx="1333.55" cy="219.6" r="3.7" fill="#6c6456"/>
<circle cx="1333.55" cy="219.6" r="2.6" fill="#f2eee4"/>
<circle cx="1333.55" cy="219.6" r="1.1" fill="#8b4b22"/>
<ellipse cx="1335.55" cy="236.4" rx="6" ry="5" fill="#000" opacity="0.18" filter="url(#blur)"/>
<circle cx="1333.55" cy="232.4" r="5.6" fill="url(#gBnc)" stroke="#5a5448" stroke-width="0.7"/>
<circle cx="1333.55" cy="232.4" r="3.7" fill="#6c6456"/>
<circle cx="1333.55" cy="232.4" r="2.6" fill="#f2eee4"/>
<circle cx="1333.55" cy="232.4" r="1.1" fill="#8b4b22"/>
<text x="1347.8" y="212.3" font-size="3.2" fill="#666">15</text>
<ellipse cx="1350.8" cy="223.6" rx="6" ry="5" fill="#000" opacity="0.18" filter="url(#blur)"/>
<circle cx="1348.8" cy="219.6" r="5.6" fill="url(#gBnc)" stroke="#5a5448" stroke-width="0.7"/>
<circle cx="1348.8" cy="219.6" r="3.7" fill="#6c6456"/>
<circle cx="1348.8" cy="219.6" r="2.6" fill="#f2eee4"/>
<circle cx="1348.8" cy="219.6" r="1.1" fill="#8b4b22"/>
<ellipse cx="1350.8" cy="236.4" rx="6" ry="5" fill="#000" opacity="0.18" filter="url(#blur)"/>
<circle cx="1348.8" cy="232.4" r="5.6" fill="url(#gBnc)" stroke="#5a5448" stroke-width="0.7"/>
<circle cx="1348.8" cy="232.4" r="3.7" fill="#6c6456"/>
<circle cx="1348.8" cy="232.4" r="2.6" fill="#f2eee4"/>
<circle cx="1348.8" cy="232.4" r="1.1" fill="#8b4b22"/>
<text x="1363.05" y="212.3" font-size="3.2" fill="#666">16</text>
<ellipse cx="1366.05" cy="223.6" rx="6" ry="5" fill="#000" opacity="0.18" filter="url(#blur)"/>
<circle cx="1364.05" cy="219.6" r="5.6" fill="url(#gBnc)" stroke="#5a5448" stroke-width="0.7"/>
<circle cx="1364.05" cy="219.6" r="3.7" fill="#6c6456"/>
<circle cx="1364.05" cy="219.6" r="2.6" fill="#f2eee4"/>
<circle cx="1364.05" cy="219.6" r="1.1" fill="#8b4b22"/>
<ellipse cx="1366.05" cy="236.4" rx="6" ry="5" fill="#000" opacity="0.18" filter="url(#blur)"/>
<circle cx="1364.05" cy="232.4" r="5.6" fill="url(#gBnc)" stroke="#5a5448" stroke-width="0.7"/>
<circle cx="1364.05" cy="232.4" r="3.7" fill="#6c6456"/>
<circle cx="1364.05" cy="232.4" r="2.6" fill="#f2eee4"/>
<circle cx="1364.05" cy="232.4" r="1.1" fill="#8b4b22"/>
<text x="1369.3" y="220.5" font-size="3" fill="#666">OUT</text>
<text x="1369.8" y="233.5" font-size="3" fill="#666">IN</text>
<polygon points="424.9,334.3 477.6,337.4 483.3,376.2 424.9,375.0" fill="#121214" />
<polygon points="426.4,336.0 476.5,339.3 481.0,372.8 426.4,371.8" fill="#dfe6e2" />
<polygon points="426.4,355.0 452.0,357.5 455.0,372.3 426.4,371.8" fill="#5e8e3c" />
<polygon points="426.4,336.0 446.0,337.4 446.0,341.0 426.4,340.5" fill="#7ea452" />
<polygon points="427.5,341.5 444.5,342.2 444.5,357.5 427.5,356.5" fill="#efebe2" />
<polygon points="446.0,339.6 474.5,341.6 477.0,364.0 446.0,363.0" fill="#d8e4ee" />
<polygon points="446.0,357.3 461.0,357.8 461.0,361.4 446.0,361.0" fill="#8a2424" />
<polygon points="462.3,359.7 476.5,360.2 477.2,365.7 462.3,365.3" fill="#7fa6c2" />
<polygon points="455.0,366.0 479.0,366.5 480.5,372.6 455.5,372.3" fill="#c8ccc8" />
<rect x="437.8" y="375" width="8.2" height="11.5" fill="#1a1a1c"/>
<polygon points="427.0,389.0 434.0,385.6 499.0,385.6 508.4,391.2 429.0,392.6" fill="#19191b" />
<polygon points="382.6,334.3 404.3,311.4 404.3,393.8 382.6,390.4" fill="url(#gTowerSide)" />
<polygon points="404.3,311.4 423.8,313.7 423.8,391.5 404.3,393.8" fill="#1b1b1d" />
<rect x="409.8" y="316" width="5" height="31.5" fill="#2e2e30"/>
<rect x="411" y="317" width="2.6" height="29.5" fill="#050505"/>
<rect x="418" y="316" width="2.5" height="2.5" fill="#ddd"/>
<rect x="418.2" y="328" width="2" height="3" fill="#888"/>
<rect x="418.2" y="334" width="2" height="3" fill="#888"/>
<rect x="418.2" y="340" width="2" height="3" fill="#888"/>
<ellipse cx="417.2" cy="368" rx="3.6" ry="4" fill="none" stroke="#c8c8c8" stroke-width="1"/>
<polygon points="1307.9,336.6 1360.6,339.7 1366.3,378.5 1307.9,377.3" fill="#121214" />
<polygon points="1309.4,338.3 1359.5,341.6 1364.0,375.1 1309.4,374.1" fill="#dfe6e2" />
<polygon points="1309.4,357.3 1335.0,359.8 1338.0,374.6 1309.4,374.1" fill="#5e8e3c" />
<polygon points="1309.4,338.3 1329.0,339.7 1329.0,343.3 1309.4,342.8" fill="#7ea452" />
<polygon points="1310.5,343.8 1327.5,344.5 1327.5,359.8 1310.5,358.8" fill="#efebe2" />
<polygon points="1329.0,341.9 1357.5,343.9 1360.0,366.3 1329.0,365.3" fill="#d8e4ee" />
<polygon points="1329.0,359.6 1344.0,360.1 1344.0,363.7 1329.0,363.3" fill="#8a2424" />
<polygon points="1345.3,362.0 1359.5,362.5 1360.2,368.0 1345.3,367.6" fill="#7fa6c2" />
<polygon points="1338.0,368.3 1362.0,368.8 1363.5,374.9 1338.5,374.6" fill="#c8ccc8" />
<rect x="1320.8" y="377.3" width="8.2" height="11.5" fill="#1a1a1c"/>
<polygon points="1310.0,391.3 1317.0,387.9 1382.0,387.9 1391.4,393.5 1312.0,394.9" fill="#19191b" />
<polygon points="1265.6,336.6 1287.3,313.7 1287.3,396.1 1265.6,392.7" fill="url(#gTowerSide)" />
<polygon points="1287.3,313.7 1306.8,316.0 1306.8,393.8 1287.3,396.1" fill="#1b1b1d" />
<rect x="1292.8" y="318.3" width="5" height="31.5" fill="#2e2e30"/>
<rect x="1294" y="319.3" width="2.6" height="29.5" fill="#050505"/>
<rect x="1301" y="318.3" width="2.5" height="2.5" fill="#ddd"/>
<rect x="1301.2" y="330.3" width="2" height="3" fill="#888"/>
<rect x="1301.2" y="336.3" width="2" height="3" fill="#888"/>
<rect x="1301.2" y="342.3" width="2" height="3" fill="#888"/>
<ellipse cx="1300.2" cy="370.3" rx="3.6" ry="4" fill="none" stroke="#c8c8c8" stroke-width="1"/>
<rect x="18.3" y="98.9" width="100.4" height="66.8" rx="3" fill="#1b1b1d"/>
<rect x="22" y="102.6" width="92.8" height="58.7" fill="url(#gTV)"/>
<ellipse cx="30" cy="116" rx="8" ry="3" fill="#f4f8fc" opacity="0.85" filter="url(#blur1)"/>
<ellipse cx="45" cy="120" rx="14" ry="4" fill="#f4f8fc" opacity="0.85" filter="url(#blur1)"/>
<ellipse cx="62" cy="113" rx="12" ry="3" fill="#f4f8fc" opacity="0.85" filter="url(#blur1)"/>
<ellipse cx="70" cy="119" rx="10" ry="3" fill="#f4f8fc" opacity="0.85" filter="url(#blur1)"/>
<ellipse cx="50" cy="127" rx="20" ry="2.5" fill="#f4f8fc" opacity="0.85" filter="url(#blur1)"/>
<ellipse cx="40" cy="135" rx="18" ry="2.2" fill="#f4f8fc" opacity="0.85" filter="url(#blur1)"/>
<ellipse cx="75" cy="134" rx="22" ry="2" fill="#f4f8fc" opacity="0.85" filter="url(#blur1)"/>
<ellipse cx="100" cy="135" rx="14" ry="2" fill="#f4f8fc" opacity="0.85" filter="url(#blur1)"/>
<ellipse cx="88" cy="131" rx="8" ry="2" fill="#f4f8fc" opacity="0.85" filter="url(#blur1)"/>
<ellipse cx="30" cy="130" rx="8" ry="2" fill="#f4f8fc" opacity="0.85" filter="url(#blur1)"/>
<path d="M22 150 Q60 147 114.8 148.5 V161.3 H22 Z" fill="url(#gGrass)"/>
<path d="M22 154 Q60 151.5 114.8 152.5" fill="none" stroke="#b8d850" stroke-width="1" opacity="0.8"/>
<path d="M61 165.7 H76 L74 174 H63 Z" fill="#1d1d1f"/>
<ellipse cx="69.3" cy="178.6" rx="27.7" ry="6.6" fill="#19191b"/>
<ellipse cx="69.3" cy="177.3" rx="22" ry="3.6" fill="#333336"/>
<polygon points="166.6,118.4 297.9,118.4 314.2,137.0 148.6,137.0" fill="url(#gNvrTop)" />
<rect x="148.6" y="137" width="165.6" height="22.9" fill="#1f1f21"/>
<line x1="148.6" y1="137.2" x2="314.2" y2="137.2" stroke="#4a4a4c" stroke-width="1"/>
<path d="M150 140 H168 Q178 149 168 158 H150 Z" fill="#141416"/>
<path d="M290 140 H312 V158 H290 Q281 149 290 140 Z" fill="#141416"/>
<rect x="175" y="146" width="112" height="6" fill="#19191b"/>
<circle cx="160.6" cy="149" r="2.5" fill="#d8d8d8"/>
<circle cx="183.8" cy="149" r="1.6" fill="#e8e8e8"/>
<circle cx="193.2" cy="149" r="1.6" fill="#e8e8e8"/>
<circle cx="202.7" cy="149" r="1.6" fill="#e8e8e8"/>
<circle cx="212.1" cy="149" r="1.6" fill="#e8e8e8"/>
<circle cx="221.6" cy="149" r="1.6" fill="#e8e8e8"/>
<circle cx="231.0" cy="149" r="1.6" fill="#e8e8e8"/>
<circle cx="240.4" cy="149" r="1.6" fill="#e8e8e8"/>
<circle cx="249.9" cy="149" r="1.6" fill="#e8e8e8"/>
<circle cx="259.3" cy="149" r="1.6" fill="#e8e8e8"/>
<circle cx="268.8" cy="149" r="1.6" fill="#e8e8e8"/>
<circle cx="278.2" cy="149" r="1.6" fill="#e8e8e8"/>
<rect x="217.5" y="140.6" width="1.8" height="1.2" fill="#3fbf4f"/>
<rect x="224.7" y="140.6" width="1.8" height="1.2" fill="#3fbf4f"/>
<rect x="231.9" y="140.6" width="1.8" height="1.2" fill="#3fbf4f"/>
<rect x="239.1" y="140.6" width="1.8" height="1.2" fill="#3fbf4f"/>
<rect x="246.3" y="140.6" width="1.8" height="1.2" fill="#3fbf4f"/>
<circle cx="300.5" cy="149" r="5.8" fill="#d4d4d6"/>
<circle cx="300.5" cy="149" r="4" fill="#5a5a5c"/>
<circle cx="300.5" cy="149" r="2.8" fill="#e4e4e6"/>
<polygon points="148.2,219.9 161.6,230.2 162.1,243.6 149.0,232.5" fill="#4a4a4c" />
<polygon points="148.2,219.9 203.9,212.2 227.5,220.4 161.6,230.2" fill="url(#gRouterTop)" />
<polygon points="161.6,230.2 227.5,220.4 228.0,229.2 162.1,243.6" fill="#161618" />
<polygon points="163.5,231.6 226.3,222.4 226.6,228.2 163.8,241.6" fill="#dcdcdc" />
<rect x="190.5" y="231.2" width="3.2" height="3.3" fill="#161616"/>
<rect x="194.6" y="230.6" width="3.2" height="3.3" fill="#161616"/>
<rect x="198.7" y="230.0" width="3.2" height="3.3" fill="#161616"/>
<rect x="202.8" y="229.4" width="3.2" height="3.3" fill="#161616"/>
<rect x="206.9" y="228.8" width="3.2" height="3.3" fill="#161616"/>
<rect x="165" y="235.5" width="6" height="2" fill="#59a860"/>
<polygon points="147.7,303.5 165.7,292.0 240.9,299.9 230.1,313.6" fill="url(#gSwTop)" />
<polygon points="147.7,303.5 230.1,313.6 230.1,322.1 147.7,311.3" fill="#2d3762" />
<polygon points="230.1,313.6 240.9,299.9 240.9,308.2 230.1,322.1" fill="#262f55" />
<polygon points="154.4,304.8 186.0,308.6 186.0,315.6 154.4,311.8" fill="#c4c8d2" />
<rect x="155.0" y="305.50" width="1.9" height="2.2" fill="#2a2e40"/>
<rect x="157.6" y="305.82" width="1.9" height="2.2" fill="#2a2e40"/>
<rect x="160.2" y="306.13" width="1.9" height="2.2" fill="#2a2e40"/>
<rect x="162.8" y="306.45" width="1.9" height="2.2" fill="#2a2e40"/>
<rect x="165.4" y="306.76" width="1.9" height="2.2" fill="#2a2e40"/>
<rect x="168.0" y="307.08" width="1.9" height="2.2" fill="#2a2e40"/>
<rect x="170.6" y="307.40" width="1.9" height="2.2" fill="#2a2e40"/>
<rect x="173.2" y="307.71" width="1.9" height="2.2" fill="#2a2e40"/>
<rect x="175.8" y="308.03" width="1.9" height="2.2" fill="#2a2e40"/>
<rect x="178.4" y="308.34" width="1.9" height="2.2" fill="#2a2e40"/>
<rect x="181.0" y="308.66" width="1.9" height="2.2" fill="#2a2e40"/>
<rect x="183.6" y="308.98" width="1.9" height="2.2" fill="#2a2e40"/>
<rect x="155.0" y="308.80" width="1.9" height="2.2" fill="#2a2e40"/>
<rect x="157.6" y="309.12" width="1.9" height="2.2" fill="#2a2e40"/>
<rect x="160.2" y="309.43" width="1.9" height="2.2" fill="#2a2e40"/>
<rect x="162.8" y="309.75" width="1.9" height="2.2" fill="#2a2e40"/>
<rect x="165.4" y="310.06" width="1.9" height="2.2" fill="#2a2e40"/>
<rect x="168.0" y="310.38" width="1.9" height="2.2" fill="#2a2e40"/>
<rect x="170.6" y="310.70" width="1.9" height="2.2" fill="#2a2e40"/>
<rect x="173.2" y="311.01" width="1.9" height="2.2" fill="#2a2e40"/>
<rect x="175.8" y="311.33" width="1.9" height="2.2" fill="#2a2e40"/>
<rect x="178.4" y="311.64" width="1.9" height="2.2" fill="#2a2e40"/>
<rect x="181.0" y="311.96" width="1.9" height="2.2" fill="#2a2e40"/>
<rect x="183.6" y="312.28" width="1.9" height="2.2" fill="#2a2e40"/>
<polygon points="222.4,298.4 229.5,299.1 229.5,300.6 222.4,299.9" fill="#e8e838" />
<polygon points="236.0,306.0 239.5,302.0 239.5,306.0 236.0,310.0" fill="#d8d030" />
<polygon points="188.0,310.0 198.0,311.2 198.0,314.5 188.0,313.3" fill="#555a70" />
<polygon points="156.5,401.5 201.8,393.5 204.0,397.7 159.6,408.5" fill="#e4e4e8" stroke="#a8a8ac" stroke-width="0.5"/>
<polygon points="148.6,349.3 199.7,352.8 202.8,392.5 153.4,401.8" fill="#2c2c2e" />
<polygon points="152.6,389.5 201.6,385.5 202.4,392.0 153.4,400.5" fill="#56565a" />
<polygon points="151.0,352.0 198.0,355.0 200.5,386.0 153.0,391.0" fill="#c4c4cc" />
<polygon points="152.0,353.0 174.0,354.3 174.0,368.8 152.6,368.3" fill="#d2cad8" />
<ellipse cx="164.5" cy="360.5" rx="4.6" ry="5.2" fill="#4a2a20"/>
<ellipse cx="164.5" cy="362.5" rx="3.4" ry="4" fill="#f0c0a8"/>
<path d="M158 368.5 Q164.5 364 171 368.5 Z" fill="#a83040"/>
<polygon points="152.6,368.8 174.0,369.2 174.0,376.5 152.9,376.5" fill="#e8e8ec" />
<polygon points="175.0,354.4 198.0,355.8 199.0,376.0 175.0,376.5" fill="#f6f6f8" />
<polygon points="187.4,359.6 197.5,360.2 197.8,367.0 187.6,367.0" fill="#d8e0f0" />
<rect x="189.0" y="362.0" width="1.4" height="4.0" fill="#e04040"/>
<rect x="191.1" y="362.3" width="1.4" height="3.7" fill="#40a040"/>
<rect x="193.2" y="362.6" width="1.4" height="3.4" fill="#4060d0"/>
<rect x="195.3" y="362.9" width="1.4" height="3.1" fill="#e0a020"/>
<rect x="177" y="358" width="8" height="0.8" fill="#b0b0b8"/>
<rect x="177" y="361" width="6" height="0.8" fill="#b0b0b8"/>
<rect x="177" y="364" width="8" height="0.8" fill="#b0b0b8"/>
<rect x="177" y="367" width="6" height="0.8" fill="#b0b0b8"/>
<rect x="177" y="370" width="8" height="0.8" fill="#b0b0b8"/>
<polygon points="153.3,377.5 200.0,376.0 200.5,386.0 153.6,390.5" fill="#2a3660" />
<rect x="156.0" y="379.5" width="9" height="8.5" fill="#50608a"/>
<ellipse cx="160.5" cy="383.0" rx="2" ry="2.4" fill="#e8b8a0"/>
<path d="M157.0 388.0 Q160.5 384.5 164.0 388.0 Z" fill="#20283a"/>
<rect x="167.4" y="378.9" width="9" height="8.5" fill="#50608a"/>
<ellipse cx="171.9" cy="382.4" rx="2" ry="2.4" fill="#e8b8a0"/>
<path d="M168.4 387.4 Q171.9 383.9 175.4 387.4 Z" fill="#20283a"/>
<rect x="178.8" y="378.3" width="9" height="8.5" fill="#50608a"/>
<ellipse cx="183.3" cy="381.8" rx="2" ry="2.4" fill="#e8b8a0"/>
<path d="M179.8 386.8 Q183.3 383.3 186.8 386.8 Z" fill="#20283a"/>
<rect x="190.2" y="377.7" width="9" height="8.5" fill="#50608a"/>
<ellipse cx="194.7" cy="381.2" rx="2" ry="2.4" fill="#e8b8a0"/>
<path d="M191.2 386.2 Q194.7 382.7 198.2 386.2 Z" fill="#20283a"/>
<polygon points="174.0,411.0 203.8,395.6 220.3,401.8 195.6,419.3" fill="#1d1d20" />
<polygon points="177.0,410.5 204.0,397.0 217.0,402.0 195.0,416.5" fill="#2e2e32" />
<path d="M175 418 Q160 416 172 411" fill="none" stroke="#333" stroke-width="0.8"/>
<ellipse cx="182.5" cy="420" rx="9.5" ry="4.2" fill="#141416"/>
<ellipse cx="180" cy="418.5" rx="4" ry="1.5" fill="#803030" opacity="0.7"/>
<g transform="translate(0,0)">
<polygon points="437.5,72.5 446.5,70.5 446.5,93.0 437.5,95.0" fill="#e6e8ea" stroke="#b0b2b6" stroke-width="0.5"/>
<polygon points="395.4,76.9 420.0,54.6 444.7,60.3 429.8,83.2" fill="#e9ebed" />
<polygon points="395.4,76.9 420.0,54.6 426.4,55.8 410.3,70.6 409.2,73.5 397.2,78.6" fill="#3a7ac8" />
<polygon points="429.8,83.2 444.7,60.3 444.7,80.0 429.8,94.1" fill="#d2d4d7" />
<polygon points="395.4,76.9 429.8,83.2 429.8,94.1 395.4,87.8" fill="#dee0e2" />
<polygon points="396.0,79.2 406.9,81.2 406.9,90.6 396.0,88.6" fill="#4fb27c" />
<polygon points="396.8,79.8 398.2,80.1 398.2,88.4 396.8,88.1" fill="#2c8a56" />
<polygon points="399.4,80.3 400.8,80.5 400.8,88.9 399.4,88.6" fill="#2c8a56" />
<polygon points="402.0,80.8 403.4,81.0 403.4,89.4 402.0,89.1" fill="#2c8a56" />
<polygon points="404.6,81.2 406.0,81.5 406.0,89.8 404.6,89.5" fill="#2c8a56" />
<polygon points="410.9,85.2 425.2,87.8 425.2,93.2 410.9,90.8" fill="#767c84" />
<polygon points="413.0,86.6 423.2,88.5 423.2,91.6 413.0,89.8" fill="#2e323a" />
<polygon points="434.5,64.5 437.5,64.0 437.5,67.0 434.5,67.5" fill="#3a7ac8" />
<polygon points="418.0,71.0 429.0,67.5 429.0,68.3 418.0,71.8" fill="#a8aeb6" />
</g>
<g transform="translate(934.8,5.3)">
<polygon points="437.5,72.5 446.5,70.5 446.5,93.0 437.5,95.0" fill="#e6e8ea" stroke="#b0b2b6" stroke-width="0.5"/>
<polygon points="395.4,76.9 420.0,54.6 444.7,60.3 429.8,83.2" fill="#e9ebed" />
<polygon points="395.4,76.9 420.0,54.6 426.4,55.8 410.3,70.6 409.2,73.5 397.2,78.6" fill="#3a7ac8" />
<polygon points="429.8,83.2 444.7,60.3 444.7,80.0 429.8,94.1" fill="#d2d4d7" />
<polygon points="395.4,76.9 429.8,83.2 429.8,94.1 395.4,87.8" fill="#dee0e2" />
<polygon points="396.0,79.2 406.9,81.2 406.9,90.6 396.0,88.6" fill="#4fb27c" />
<polygon points="396.8,79.8 398.2,80.1 398.2,88.4 396.8,88.1" fill="#2c8a56" />
<polygon points="399.4,80.3 400.8,80.5 400.8,88.9 399.4,88.6" fill="#2c8a56" />
<polygon points="402.0,80.8 403.4,81.0 403.4,89.4 402.0,89.1" fill="#2c8a56" />
<polygon points="404.6,81.2 406.0,81.5 406.0,89.8 404.6,89.5" fill="#2c8a56" />
<polygon points="410.9,85.2 425.2,87.8 425.2,93.2 410.9,90.8" fill="#767c84" />
<polygon points="413.0,86.6 423.2,88.5 423.2,91.6 413.0,89.8" fill="#2e323a" />
<polygon points="434.5,64.5 437.5,64.0 437.5,67.0 434.5,67.5" fill="#3a7ac8" />
<polygon points="418.0,71.0 429.0,67.5 429.0,68.3 418.0,71.8" fill="#a8aeb6" />
</g>
<g transform="translate(-469,6.5)">
<circle cx="1096.5" cy="69" r="30" fill="url(#gGlow)"/>
<path d="M1046.4 60.7 L1049.1 62.5 L1052.8 68.9 L1060.1 74.4 L1071.1 79.9 L1082.1 87.2 L1091.2 94.5 L1095.8 100 L1093 100.9 L1087.6 97.3 L1076.6 90.8 L1065.6 83.5 L1056.5 78 L1051 73.5 L1047.3 68 L1045.5 63.4 Z" fill="#e8dcbe" stroke="#2a2438" stroke-width="0.9"/>
<path d="M1062 80 Q1068 84 1074 84" fill="none" stroke="#2a2438" stroke-width="0.7"/>
<path d="M1094.9 52.4 L1085.7 57 L1076.6 67.1 L1069.3 73.5 L1066.5 76.2 L1072.9 78 L1083 75.3 L1091.2 73.5 L1096.7 79.9 L1102.2 85.4 L1100.4 92.7 L1096.7 95.4 L1100.4 97.3 L1113.2 90.8 L1122.3 79.9 L1124.1 67.1 L1120.5 56.1 L1113.2 50.6 L1107.7 49.7 L1102.2 50.6 Z" fill="#5cb8e0" stroke="#1f2f4a" stroke-width="1"/>
<path d="M1099.4 52.4 L1104.9 52.4 L1102.2 68.9 Z" fill="#ffffff" stroke="#333" stroke-width="0.5"/>
<path d="M1097 56 L1101 70 M1108 54 L1104 68 M1085 62 L1090 73" fill="none" stroke="#1f2f4a" stroke-width="0.7"/>
<circle cx="1109.5" cy="69.8" r="2" fill="#e8e8f4" stroke="#c03030" stroke-width="0.8"/>
<path d="M1095 44 L1106 43.5 L1106 51 L1100 52.5 L1095.5 50 Z" fill="#f2c8a4" stroke="#5a3a2a" stroke-width="0.5"/>
<circle cx="1110.5" cy="43.5" r="5" fill="#e2482e" stroke="#8a1e10" stroke-width="0.6"/>
<path d="M1109 43 Q1111 40 1113 43 Q1111 46 1109 44" fill="none" stroke="#8a1e10" stroke-width="0.6"/>
<path d="M1089.5 46 Q1088 33 1096 29.5 Q1104 27.5 1108.6 34 L1107 42 Q1098 42 1089.5 46 Z" fill="#f2e62a" stroke="#3a3010" stroke-width="0.9"/>
<circle cx="1096.5" cy="98.5" r="2.2" fill="#f2d0b0" stroke="#5a3a2a" stroke-width="0.5"/>
<circle cx="1067.5" cy="77.5" r="1.8" fill="#f2d0b0" stroke="#5a3a2a" stroke-width="0.5"/>
<path d="M1127.1 53.2 L1129.7 63.5 L1145 73.7 L1154 84 L1156 80 Z" fill="#ffffff" stroke="#222" stroke-width="0.6"/>
<path d="M1125.8 45.5 L1156.6 71.2 L1182.3 63.5 L1182.8 71.2 L1154 84 L1127.1 53.2 Z" fill="#5a5ae8" stroke="#1a1a40" stroke-width="0.6"/>
<path d="M1125.8 45.5 L1136.1 39.8 L1151.5 36.6 L1160.5 37.8 L1182.3 63.5 L1156.6 71.2 Z" fill="#ffffff" stroke="#222" stroke-width="0.7"/>
<path d="M1151.5 45.5 L1159.2 43.6 L1168.2 52.6 L1160.5 55.2 Z" fill="#5a5ae8"/>
<path d="M1133.5 41 L1138.7 37.8 L1143.8 39.1 L1159.2 59.6 L1166.2 63.5 L1165.6 72.5 L1160.5 75 L1156.6 71.2 L1152.8 64.8 L1141.2 50.7 L1133.5 46.2 Z" fill="#fcfcfc" stroke="#222" stroke-width="0.7"/>
<path d="M1141 50 L1144 48" stroke="#222" stroke-width="0.8"/>
<circle cx="1177.8" cy="63.5" r="1.4" fill="#e02020"/>
<path d="M1150.2 76.3 Q1146 92 1156 98 Q1166 96 1164.3 75" fill="none" stroke="#888" stroke-width="1.6" stroke-dasharray="0.8 0.9"/>
</g>
<g transform="translate(0,0)">
<circle cx="1096.5" cy="69" r="30" fill="url(#gGlow)"/>
<path d="M1046.4 60.7 L1049.1 62.5 L1052.8 68.9 L1060.1 74.4 L1071.1 79.9 L1082.1 87.2 L1091.2 94.5 L1095.8 100 L1093 100.9 L1087.6 97.3 L1076.6 90.8 L1065.6 83.5 L1056.5 78 L1051 73.5 L1047.3 68 L1045.5 63.4 Z" fill="#e8dcbe" stroke="#2a2438" stroke-width="0.9"/>
<path d="M1062 80 Q1068 84 1074 84" fill="none" stroke="#2a2438" stroke-width="0.7"/>
<path d="M1094.9 52.4 L1085.7 57 L1076.6 67.1 L1069.3 73.5 L1066.5 76.2 L1072.9 78 L1083 75.3 L1091.2 73.5 L1096.7 79.9 L1102.2 85.4 L1100.4 92.7 L1096.7 95.4 L1100.4 97.3 L1113.2 90.8 L1122.3 79.9 L1124.1 67.1 L1120.5 56.1 L1113.2 50.6 L1107.7 49.7 L1102.2 50.6 Z" fill="#5cb8e0" stroke="#1f2f4a" stroke-width="1"/>
<path d="M1099.4 52.4 L1104.9 52.4 L1102.2 68.9 Z" fill="#ffffff" stroke="#333" stroke-width="0.5"/>
<path d="M1097 56 L1101 70 M1108 54 L1104 68 M1085 62 L1090 73" fill="none" stroke="#1f2f4a" stroke-width="0.7"/>
<circle cx="1109.5" cy="69.8" r="2" fill="#e8e8f4" stroke="#c03030" stroke-width="0.8"/>
<path d="M1095 44 L1106 43.5 L1106 51 L1100 52.5 L1095.5 50 Z" fill="#f2c8a4" stroke="#5a3a2a" stroke-width="0.5"/>
<circle cx="1110.5" cy="43.5" r="5" fill="#e2482e" stroke="#8a1e10" stroke-width="0.6"/>
<path d="M1109 43 Q1111 40 1113 43 Q1111 46 1109 44" fill="none" stroke="#8a1e10" stroke-width="0.6"/>
<path d="M1089.5 46 Q1088 33 1096 29.5 Q1104 27.5 1108.6 34 L1107 42 Q1098 42 1089.5 46 Z" fill="#f2e62a" stroke="#3a3010" stroke-width="0.9"/>
<circle cx="1096.5" cy="98.5" r="2.2" fill="#f2d0b0" stroke="#5a3a2a" stroke-width="0.5"/>
<circle cx="1067.5" cy="77.5" r="1.8" fill="#f2d0b0" stroke="#5a3a2a" stroke-width="0.5"/>
<path d="M1127.1 53.2 L1129.7 63.5 L1145 73.7 L1154 84 L1156 80 Z" fill="#ffffff" stroke="#222" stroke-width="0.6"/>
<path d="M1125.8 45.5 L1156.6 71.2 L1182.3 63.5 L1182.8 71.2 L1154 84 L1127.1 53.2 Z" fill="#5a5ae8" stroke="#1a1a40" stroke-width="0.6"/>
<path d="M1125.8 45.5 L1136.1 39.8 L1151.5 36.6 L1160.5 37.8 L1182.3 63.5 L1156.6 71.2 Z" fill="#ffffff" stroke="#222" stroke-width="0.7"/>
<path d="M1151.5 45.5 L1159.2 43.6 L1168.2 52.6 L1160.5 55.2 Z" fill="#5a5ae8"/>
<path d="M1133.5 41 L1138.7 37.8 L1143.8 39.1 L1159.2 59.6 L1166.2 63.5 L1165.6 72.5 L1160.5 75 L1156.6 71.2 L1152.8 64.8 L1141.2 50.7 L1133.5 46.2 Z" fill="#fcfcfc" stroke="#222" stroke-width="0.7"/>
<path d="M1141 50 L1144 48" stroke="#222" stroke-width="0.8"/>
<circle cx="1177.8" cy="63.5" r="1.4" fill="#e02020"/>
<path d="M1150.2 76.3 Q1146 92 1156 98 Q1166 96 1164.3 75" fill="none" stroke="#888" stroke-width="1.6" stroke-dasharray="0.8 0.9"/>
</g>
<polygon points="1518.8,88.2 1523.4,86.8 1568.0,90.8 1539.9,92.4" fill="#eef0f4" />
<polygon points="1518.8,88.2 1539.9,92.4 1539.9,116.6 1519.8,114.0" fill="url(#gCam)" />
<polygon points="1539.9,92.4 1568.0,90.8 1568.0,112.5 1539.9,116.6" fill="#b4b8c2" />
<polygon points="1541.0,94.0 1543.0,93.8 1543.0,114.5 1541.0,115.0" fill="#9a9ea8" />
<polygon points="1551.5,95.5 1565.0,94.2 1566.5,103.0 1552.0,104.0" fill="#2c2c2e" />
<path d="M1552 101 L1570 99.8 L1572 117.2 L1553 117.8 Z" fill="#232325"/>
<ellipse cx="1572" cy="108.5" rx="5.2" ry="8.6" fill="#19191b"/>
<ellipse cx="1573" cy="108.5" rx="3.4" ry="6" fill="#080808"/>
<rect x="1558.5" y="117" width="1" height="3.5" fill="#333"/><rect x="1563" y="117" width="1" height="3.5" fill="#333"/>
<polygon points="1594.8,214.5 1623.0,211.5 1635.0,219.5 1601.0,222.0" fill="#4a4a4e" />
<ellipse cx="1613.5" cy="214.5" rx="6" ry="2.6" fill="#1a1a1c" stroke="#b8b8b8" stroke-width="0.6"/>
<polygon points="1569.0,146.5 1589.8,144.0 1589.8,208.6 1569.0,205.5" fill="#2a2a2d" />
<polygon points="1589.8,144.0 1614.7,145.0 1614.7,208.6 1589.8,208.6" fill="#cfcfd3" />
<rect x="1592.3" y="147" width="19.8" height="59.5" fill="#262629"/>
<rect x="1593" y="148" width="18.4" height="5" fill="#19191b"/>
<rect x="1594" y="151.6" width="16" height="0.6" fill="#8a8a8e"/>
<rect x="1593" y="154.5" width="18.4" height="5" fill="#19191b"/>
<rect x="1594" y="158.1" width="16" height="0.6" fill="#8a8a8e"/>
<rect x="1593" y="161" width="18.4" height="5" fill="#19191b"/>
<rect x="1594" y="164.6" width="16" height="0.6" fill="#8a8a8e"/>
<path d="M1592.3 189 L1599 193 L1605.5 193 L1612.1 189 L1612.1 206.5 L1606 199.5 L1598.5 199.5 L1592.3 206.5 Z" fill="#ececee"/>
<circle cx="1602.2" cy="203" r="1.3" fill="#aaa"/>
<rect x="1508.8" y="151" width="61.700000000000045" height="47.599999999999994" fill="#3e4246"/>
<rect x="1511.3" y="152.9" width="56.9" height="41.6" fill="url(#gWorld)"/>
<polygon points="1514.1,160.8 1522.7,158.7 1532.9,160.0 1531.8,165.4 1528.4,170.4 1527.2,175.8 1523.8,173.7 1519.8,166.2 1514.1,163.7" fill="#d8f4fc" opacity="0.8" filter="url(#blur05)"/>
<polygon points="1528.4,175.4 1534.1,175.8 1535.2,179.9 1531.8,187.0 1529.5,184.1 1528.4,178.7" fill="#d8f4fc" opacity="0.8" filter="url(#blur05)"/>
<polygon points="1538.6,161.2 1545.4,159.1 1556.8,160.0 1563.6,161.2 1564.2,165.4 1559.7,168.7 1555.7,171.6 1552.3,173.7 1548.9,169.5 1544.3,167.9 1539.8,167.0" fill="#d8f4fc" opacity="0.8" filter="url(#blur05)"/>
<polygon points="1539.8,167.9 1546.6,168.7 1549.4,172.5 1545.4,178.7 1543.2,184.1 1540.9,178.7 1538.6,172.9" fill="#d8f4fc" opacity="0.8" filter="url(#blur05)"/>
<polygon points="1559.1,178.7 1564.8,179.1 1564.8,184.1 1560.2,184.1" fill="#d8f4fc" opacity="0.8" filter="url(#blur05)"/>
<rect x="1535.8" y="198" width="11.4" height="9" fill="#2a2a2e"/>
<path d="M1525.5 212.4 L1527 206 Q1542 204 1558 206 L1559.8 212.4 Z" fill="#3a3a3e"/>
<polygon points="1502.0,214.0 1590.0,211.2 1593.0,224.0 1500.3,230.0" fill="#141416" />
<polygon points="1504.0,216.0 1588.0,213.0 1590.0,222.5 1503.0,227.5" fill="#222226" />
<rect x="1514.4" y="244.9" width="62.399999999999864" height="47.29999999999998" fill="#3e4246"/>
<rect x="1516.9" y="246.8" width="57.6" height="41.3" fill="url(#gWorld)"/>
<polygon points="1519.8,254.6 1528.4,252.6 1538.8,253.8 1537.6,259.2 1534.2,264.1 1533.0,269.5 1529.6,267.4 1525.5,260.0 1519.8,257.5" fill="#d8f4fc" opacity="0.8" filter="url(#blur05)"/>
<polygon points="1534.2,269.1 1539.9,269.5 1541.1,273.6 1537.6,280.7 1535.3,277.8 1534.2,272.4" fill="#d8f4fc" opacity="0.8" filter="url(#blur05)"/>
<polygon points="1544.5,255.1 1551.5,253.0 1563.0,253.8 1569.9,255.1 1570.5,259.2 1565.9,262.5 1561.8,265.4 1558.4,267.4 1554.9,263.3 1550.3,261.7 1545.7,260.8" fill="#d8f4fc" opacity="0.8" filter="url(#blur05)"/>
<polygon points="1545.7,261.7 1552.6,262.5 1555.5,266.2 1551.5,272.4 1549.2,277.8 1546.9,272.4 1544.5,266.6" fill="#d8f4fc" opacity="0.8" filter="url(#blur05)"/>
<polygon points="1565.3,272.4 1571.0,272.8 1571.0,277.8 1566.4,277.8" fill="#d8f4fc" opacity="0.8" filter="url(#blur05)"/>
<rect x="1541.8" y="291.5" width="11.4" height="8.5" fill="#2a2a2e"/>
<path d="M1530.4 305.5 L1531.5 299 Q1548 297 1565 299 L1565.8 305.5 Z" fill="#3a3a3e"/>
<polygon points="1508.5,307.0 1590.0,303.7 1597.9,311.5 1596.0,316.5 1506.3,323.3" fill="#141416" />
<polygon points="1510.5,309.0 1588.0,305.7 1594.0,311.8 1509.0,320.5" fill="#222226" />
<path d="M1557 351 Q1557 346 1562 346 L1590.5 346 L1590.5 404.4 L1557 408.4 Z" fill="#141416"/>
<path d="M1560.3 347.5 L1565.4 347 L1565.4 407.2 L1560.3 407.8 Z" fill="#e8e8ea"/>
<path d="M1566 347 L1590.5 346.5 L1590.5 404.4 L1566 407.2 Z" fill="#1c1c1f"/>
<circle cx="1581.5" cy="373.2" r="2.3" fill="#c8203c"/>
<rect x="1578.5" y="377" width="6" height="0.8" fill="#777"/>
<path d="M1557 408.4 L1590.5 404.4 L1592 407 L1560 410.5 Z" fill="#c4c4c8"/>
<path d="M1510 400.5 Q1514 394 1533 393.3 Q1552 393.5 1557.3 399 L1557.3 402 Q1536 403 1512 406.5 Z" fill="#2c2c2f"/>
<path d="M1512 404.5 Q1534 400.5 1557 400.5" fill="none" stroke="#b8b8bc" stroke-width="1"/>
<path d="M1514 398 Q1534 394.5 1554 397" fill="none" stroke="#55555a" stroke-width="1.2"/>
<circle cx="1536" cy="403" r="0.9" fill="#c8203c"/>
<rect x="1524.1" y="377.2" width="22.1" height="17.1" rx="7" fill="url(#gSilver)"/>
<circle cx="1540.6" cy="385.8" r="6.3" fill="#1a1a1c"/>
<circle cx="1540.8" cy="385.8" r="3.8" fill="#4a2830"/>
<circle cx="1539.5" cy="384.5" r="1" fill="#c0a0a8"/>
<path d="M1531.2 417.5 Q1537 409 1546 408.4 Q1555 408.5 1558.3 415 Q1550 419.5 1540 419.5 Z" fill="#2e2e30"/>
<path d="M1556.3 420.5 L1584 407.4 Q1588 407 1588.5 410.5 L1562 424.5 Q1557 424.5 1556.3 420.5 Z" fill="#4a4a4e"/>
<path d="M1572 412 L1584 407.8 L1586.5 411 L1575 415.5 Z" fill="#d0d0d4"/>
<path d="M227 50.3 H368.1 V196.8 H383" fill="none" stroke="#2e2624" stroke-width="2.2" stroke-linejoin="miter"/>
<path d="M390 75.1 H378.3 V185.5 H383" fill="none" stroke="#2e2624" stroke-width="2.2" stroke-linejoin="miter"/>
<path d="M308.5 129.9 H358.3 V208.7 H383" fill="none" stroke="#2e2624" stroke-width="2.2" stroke-linejoin="miter"/>
<path d="M118.7 139.6 H148.6" fill="none" stroke="#2e2624" stroke-width="2.2" stroke-linejoin="miter"/>
<path d="M230.7 226.6 H322.8 V222.1 H383" fill="none" stroke="#2e2624" stroke-width="2.2" stroke-linejoin="miter"/>
<path d="M243.4 300.6 H337.1 V232.4 H383" fill="none" stroke="#2e2624" stroke-width="2.2" stroke-linejoin="miter"/>
<path d="M201.4 371.8 H349.9 V241.4 H383" fill="none" stroke="#2e2624" stroke-width="2.2" stroke-linejoin="miter"/>
<path d="M372.8 354.6 H361.7 V252.2 H384" fill="none" stroke="#2e2624" stroke-width="2.2" stroke-linejoin="miter"/>
<path d="M577 71.2 H564.1 V187" fill="none" stroke="#2e2624" stroke-width="2.2" stroke-linejoin="miter"/>
<path d="M1188.8 67.6 H1212 V187.5" fill="none" stroke="#2e2624" stroke-width="2.2" stroke-linejoin="miter"/>
<path d="M1382.7 79.9 H1394.2 V191.9 H1378" fill="none" stroke="#2e2624" stroke-width="2.2" stroke-linejoin="miter"/>
<path d="M1503 40.9 H1417.7 V202.9 H1378" fill="none" stroke="#2e2624" stroke-width="2.2" stroke-linejoin="miter"/>
<path d="M1514 100.7 H1430.5 V214.4 H1378" fill="none" stroke="#2e2624" stroke-width="2.2" stroke-linejoin="miter"/>
<path d="M1506.3 179 H1442 V225.4 H1378" fill="none" stroke="#2e2624" stroke-width="2.2" stroke-linejoin="miter"/>
<path d="M1512.1 283.8 H1430.5 V236.4 H1378" fill="none" stroke="#2e2624" stroke-width="2.2" stroke-linejoin="miter"/>
<path d="M1520.4 387.9 H1417.7 V247.4 H1378" fill="none" stroke="#2e2624" stroke-width="2.2" stroke-linejoin="miter"/>
<path d="M1372.4 371 H1394.3 V259.1 H1378" fill="none" stroke="#2e2624" stroke-width="2.2" stroke-linejoin="miter"/>
<polygon points="189.3,13.0 195.4,20.3 205.9,14.9 206.7,22.9 220.0,20.2 215.3,27.8 229.4,28.2 219.9,34.2 232.7,37.7 219.9,41.2 229.4,47.2 215.3,47.6 220.0,55.2 206.7,52.5 205.9,60.5 195.4,55.1 189.3,62.4 183.2,55.1 172.7,60.5 171.9,52.5 158.6,55.2 163.3,47.6 149.2,47.2 158.7,41.2 145.9,37.7 158.7,34.2 149.2,28.2 163.3,27.8 158.6,20.2 171.9,22.9 172.7,14.9 183.2,20.3" fill="#e84b2a" stroke="#3a2a28" stroke-width="0.7"/>
<polygon points="1547.7,17.7 1553.6,24.8 1563.8,19.5 1564.5,27.5 1577.4,24.8 1572.8,32.3 1586.5,32.7 1577.4,38.6 1589.7,42.0 1577.4,45.4 1586.5,51.3 1572.8,51.7 1577.4,59.2 1564.5,56.5 1563.8,64.5 1553.6,59.2 1547.7,66.3 1541.8,59.2 1531.6,64.5 1530.9,56.5 1518.0,59.2 1522.6,51.7 1508.9,51.3 1518.0,45.4 1505.7,42.0 1518.0,38.6 1508.9,32.7 1522.6,32.3 1518.0,24.8 1530.9,27.5 1531.6,19.5 1541.8,24.8" fill="#e84b2a" stroke="#3a2a28" stroke-width="0.7"/>
<text x="313.12" y="49.20" font-size="24.57" textLength="55.37" lengthAdjust="spacingAndGlyphs" fill="#2b2422" stroke="#ffffff" stroke-width="0.3" style="white-space:pre">16E1</text>
<text x="160.93" y="36.90" font-size="10.72" textLength="54.65" lengthAdjust="spacingAndGlyphs" fill="#ffffff" style="white-space:pre">PDH/SDH</text>
<text x="172.80" y="49.60" font-size="11.45" textLength="28.44" lengthAdjust="spacingAndGlyphs" fill="#ffffff" style="white-space:pre">/ATM</text>
<text x="15.63" y="95.90" font-size="29.71" textLength="100.56" lengthAdjust="spacingAndGlyphs" fill="#2b2422" stroke="#ffffff" stroke-width="0.3" style="white-space:pre">LCD TV</text>
<text x="215.78" y="118.50" font-size="24.20" textLength="53.42" lengthAdjust="spacingAndGlyphs" fill="#2b2422" stroke="#ffffff" stroke-width="0.3" style="white-space:pre">NVR</text>
<text x="323.07" y="128.80" font-size="24.20" textLength="30.87" lengthAdjust="spacingAndGlyphs" fill="#2b2422" stroke="#ffffff" stroke-width="0.3" style="white-space:pre">FE</text>
<text x="383.90" y="135.90" font-size="24.35" textLength="157.30" lengthAdjust="spacingAndGlyphs" fill="#2b2422" style="white-space:pre">2*RS232/485/422</text>
<text x="605.65" y="139.80" font-size="27.17" textLength="100.83" lengthAdjust="spacingAndGlyphs" fill="#2b2422" stroke="#ffffff" stroke-width="0.3" style="white-space:pre">hot-line</text>
<text x="12.93" y="235.80" font-size="30.08" textLength="79.20" lengthAdjust="spacingAndGlyphs" fill="#2b2422" stroke="#ffffff" stroke-width="0.3" style="white-space:pre">router</text>
<text x="322.85" y="219.00" font-size="24.35" textLength="31.09" lengthAdjust="spacingAndGlyphs" fill="#2b2422" stroke="#ffffff" stroke-width="0.3" style="white-space:pre">FE</text>
<text x="11.88" y="286.80" font-size="28.28" textLength="193.31" lengthAdjust="spacingAndGlyphs" fill="#2b2422" stroke="#ffffff" stroke-width="0.3" style="white-space:pre">network switch</text>
<text x="311.07" y="297.60" font-size="25.07" textLength="30.76" lengthAdjust="spacingAndGlyphs" fill="#2b2422" stroke="#ffffff" stroke-width="0.3" style="white-space:pre">FE</text>
<text x="13.58" y="346.70" font-size="28.68" textLength="169.90" lengthAdjust="spacingAndGlyphs" fill="#2b2422" stroke="#ffffff" stroke-width="0.3" style="white-space:pre">center venue</text>
<text x="311.06" y="368.60" font-size="25.36" textLength="30.98" lengthAdjust="spacingAndGlyphs" fill="#2b2422" stroke="#ffffff" stroke-width="0.3" style="white-space:pre">FE</text>
<text x="490.64" y="367.80" font-size="24.41" textLength="92.57" lengthAdjust="spacingAndGlyphs" fill="#2b2422" stroke="#ffffff" stroke-width="0.3" style="white-space:pre">Console</text>
<text x="556.37" y="414.00" font-size="29.57" textLength="196.17" lengthAdjust="spacingAndGlyphs" fill="#ee8220" stroke="#ffffff" stroke-width="0.3" style="white-space:pre">Center  Venue</text>
<text x="446.41" y="265.90" font-size="17.97" textLength="269.88" lengthAdjust="spacingAndGlyphs" fill="#1c1a1a" style="white-space:pre">16E1+8xFE(Physical isolation)</text>
<text x="489.45" y="285.80" font-size="17.68" textLength="183.56" lengthAdjust="spacingAndGlyphs" fill="#1c1a1a" style="white-space:pre">1+1 PDH  Multiplexer</text>
<text x="812.58" y="181.70" font-size="37.52" textLength="149.29" lengthAdjust="spacingAndGlyphs" fill="#ee8220" stroke="#f7e6e6" stroke-width="0.3" style="white-space:pre">fiber optic</text>
<text x="772.01" y="319.60" font-size="27.59" textLength="222.69" lengthAdjust="spacingAndGlyphs" fill="#ee8220" stroke="#ffffff" stroke-width="0.3" style="white-space:pre">back up optic cable</text>
<text x="1076.77" y="139.80" font-size="27.31" textLength="99.69" lengthAdjust="spacingAndGlyphs" fill="#2b2422" stroke="#ffffff" stroke-width="0.3" style="white-space:pre">hot-line</text>
<text x="1232.41" y="128.70" font-size="24.49" textLength="156.49" lengthAdjust="spacingAndGlyphs" fill="#2b2422" style="white-space:pre">2*RS232/485/422</text>
<text x="1452.12" y="39.50" font-size="23.71" textLength="55.37" lengthAdjust="spacingAndGlyphs" fill="#2b2422" stroke="#ffffff" stroke-width="0.3" style="white-space:pre">16E1</text>
<text x="1518.51" y="40.20" font-size="10.72" textLength="55.48" lengthAdjust="spacingAndGlyphs" fill="#ffffff" style="white-space:pre">PDH/SDH</text>
<text x="1531.30" y="53.40" font-size="11.45" textLength="28.54" lengthAdjust="spacingAndGlyphs" fill="#ffffff" style="white-space:pre">/ATM</text>
<text x="1465.07" y="98.60" font-size="24.06" textLength="30.87" lengthAdjust="spacingAndGlyphs" fill="#2b2422" stroke="#ffffff" stroke-width="0.3" style="white-space:pre">FE</text>
<text x="1590.31" y="118.00" font-size="28.57" textLength="136.82" lengthAdjust="spacingAndGlyphs" fill="#2b2422" stroke="#ffffff" stroke-width="0.3" style="white-space:pre">IP Camera</text>
<text x="1465.07" y="176.60" font-size="25.36" textLength="30.87" lengthAdjust="spacingAndGlyphs" fill="#2b2422" stroke="#ffffff" stroke-width="0.3" style="white-space:pre">FE</text>
<text x="1622.33" y="198.70" font-size="23.17" textLength="85.81" lengthAdjust="spacingAndGlyphs" fill="#2b2422" stroke="#ffffff" stroke-width="0.3" style="white-space:pre">internet</text>
<text x="1465.07" y="282.70" font-size="23.77" textLength="30.87" lengthAdjust="spacingAndGlyphs" fill="#2b2422" stroke="#ffffff" stroke-width="0.3" style="white-space:pre">FE</text>
<text x="1628.93" y="296.80" font-size="28.52" textLength="59.04" lengthAdjust="spacingAndGlyphs" fill="#2b2422" stroke="#ffffff" stroke-width="0.3" style="white-space:pre">user</text>
<text x="1465.07" y="387.00" font-size="24.35" textLength="30.87" lengthAdjust="spacingAndGlyphs" fill="#2b2422" stroke="#ffffff" stroke-width="0.3" style="white-space:pre">FE</text>
<text x="1602.17" y="390.60" font-size="28.53" textLength="133.32" lengthAdjust="spacingAndGlyphs" fill="#2b2422" stroke="#ffffff" stroke-width="0.3" style="white-space:pre">part venue</text>
<text x="1163.74" y="369.80" font-size="24.69" textLength="92.47" lengthAdjust="spacingAndGlyphs" fill="#2b2422" stroke="#ffffff" stroke-width="0.3" style="white-space:pre">Console</text>
<text x="1009.36" y="415.00" font-size="28.70" textLength="156.20" lengthAdjust="spacingAndGlyphs" fill="#ee8220" stroke="#ffffff" stroke-width="0.3" style="white-space:pre">Part  venue</text>
<text x="1074.41" y="265.90" font-size="17.97" textLength="270.38" lengthAdjust="spacingAndGlyphs" fill="#1c1a1a" style="white-space:pre">16E1+8xFE(Physical isolation)</text>
<text x="1117.24" y="285.80" font-size="17.68" textLength="183.97" lengthAdjust="spacingAndGlyphs" fill="#1c1a1a" style="white-space:pre">1+1 PDH  Multiplexer</text>
<path d="M24.35 2.9 H745.75 A20 20 0 0 1 765.75 22.9 V413.25 A20 20 0 0 1 745.75 433.25" fill="none" stroke="#2d2523" stroke-width="5.8" stroke-dasharray="5.8 6.0" stroke-dashoffset="0.3"/>
<path d="M745.75 433.25 H24.35" fill="none" stroke="#2d2523" stroke-width="5.8" stroke-dasharray="5.8 6.0" stroke-dashoffset="4.4"/>
<path d="M24.35 433.25 A20 20 0 0 1 4.35 413.25 V22.9 A20 20 0 0 1 24.35 2.9" fill="none" stroke="#2d2523" stroke-width="5.8" stroke-dasharray="5.8 6.0" stroke-dashoffset="7.7"/>
<path d="M1015.05 2.9 H1736.4499999999998 A20 20 0 0 1 1756.4499999999998 22.9 V413.25 A20 20 0 0 1 1736.4499999999998 433.25" fill="none" stroke="#2d2523" stroke-width="5.8" stroke-dasharray="5.8 6.0" stroke-dashoffset="0.3"/>
<path d="M1736.4499999999998 433.25 H1015.05" fill="none" stroke="#2d2523" stroke-width="5.8" stroke-dasharray="5.8 6.0" stroke-dashoffset="4.4"/>
<path d="M1015.05 433.25 A20 20 0 0 1 995.05 413.25 V22.9 A20 20 0 0 1 1015.05 2.9" fill="none" stroke="#2d2523" stroke-width="5.8" stroke-dasharray="5.8 6.0" stroke-dashoffset="7.7"/>
</svg>
</body></html>
